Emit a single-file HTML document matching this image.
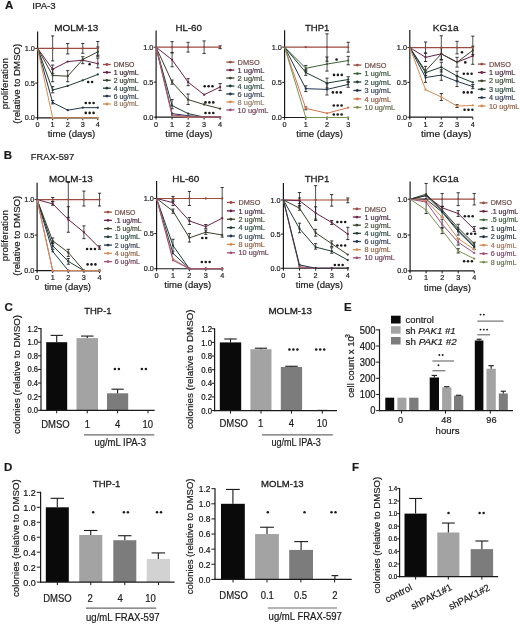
<!DOCTYPE html>
<html><head><meta charset="utf-8"><style>
html,body{margin:0;padding:0;background:#fff;}
svg{display:block;will-change:transform;filter:blur(0.4px);font-family:"Liberation Sans", sans-serif;}
</style></head><body>
<svg width="520" height="624" viewBox="0 0 520 624">
<rect width="520" height="624" fill="#fff"/>
<text x="5.00" y="9.10" font-size="11.5" fill="#1a1a1a" stroke="#1a1a1a" stroke-width="0.2" font-weight="bold" textLength="8.30" lengthAdjust="spacingAndGlyphs">A</text>
<text x="32.30" y="9.20" font-size="9.4" fill="#1a1a1a" stroke="#1a1a1a" stroke-width="0.2" textLength="23.40" lengthAdjust="spacingAndGlyphs">IPA-3</text>
<line x1="37.60" y1="31.40" x2="37.60" y2="118.40" stroke="#1a1a1a" stroke-width="1.2"/>
<line x1="37.00" y1="117.80" x2="97.80" y2="117.80" stroke="#1a1a1a" stroke-width="1.2"/>
<line x1="35.20" y1="48.40" x2="37.60" y2="48.40" stroke="#1a1a1a" stroke-width="1.0"/>
<text x="34.80" y="50.95" font-size="7.3" fill="#222" stroke="#222" stroke-width="0.2" text-anchor="end" textLength="10.15" lengthAdjust="spacingAndGlyphs">1.0</text>
<line x1="35.20" y1="83.10" x2="37.60" y2="83.10" stroke="#1a1a1a" stroke-width="1.0"/>
<text x="34.80" y="85.65" font-size="7.3" fill="#222" stroke="#222" stroke-width="0.2" text-anchor="end" textLength="10.15" lengthAdjust="spacingAndGlyphs">0.5</text>
<line x1="35.20" y1="117.80" x2="37.60" y2="117.80" stroke="#1a1a1a" stroke-width="1.0"/>
<text x="34.80" y="120.35" font-size="7.3" fill="#222" stroke="#222" stroke-width="0.2" text-anchor="end" textLength="10.15" lengthAdjust="spacingAndGlyphs">0.0</text>
<line x1="37.60" y1="117.80" x2="37.60" y2="120.20" stroke="#1a1a1a" stroke-width="1.0"/>
<text x="37.60" y="127.30" font-size="7.3" fill="#222" stroke="#222" stroke-width="0.2" text-anchor="middle" textLength="4.06" lengthAdjust="spacingAndGlyphs">0</text>
<line x1="52.65" y1="117.80" x2="52.65" y2="120.20" stroke="#1a1a1a" stroke-width="1.0"/>
<text x="52.65" y="127.30" font-size="7.3" fill="#222" stroke="#222" stroke-width="0.2" text-anchor="middle" textLength="4.06" lengthAdjust="spacingAndGlyphs">1</text>
<line x1="67.70" y1="117.80" x2="67.70" y2="120.20" stroke="#1a1a1a" stroke-width="1.0"/>
<text x="67.70" y="127.30" font-size="7.3" fill="#222" stroke="#222" stroke-width="0.2" text-anchor="middle" textLength="4.06" lengthAdjust="spacingAndGlyphs">2</text>
<line x1="82.75" y1="117.80" x2="82.75" y2="120.20" stroke="#1a1a1a" stroke-width="1.0"/>
<text x="82.75" y="127.30" font-size="7.3" fill="#222" stroke="#222" stroke-width="0.2" text-anchor="middle" textLength="4.06" lengthAdjust="spacingAndGlyphs">3</text>
<line x1="97.80" y1="117.80" x2="97.80" y2="120.20" stroke="#1a1a1a" stroke-width="1.0"/>
<text x="97.80" y="127.30" font-size="7.3" fill="#222" stroke="#222" stroke-width="0.2" text-anchor="middle" textLength="4.06" lengthAdjust="spacingAndGlyphs">4</text>
<line x1="52.65" y1="35.91" x2="52.65" y2="60.89" stroke="#151515" stroke-width="0.75"/>
<line x1="51.05" y1="35.91" x2="54.25" y2="35.91" stroke="#151515" stroke-width="0.85"/>
<line x1="51.05" y1="60.89" x2="54.25" y2="60.89" stroke="#151515" stroke-width="0.85"/>
<line x1="67.70" y1="43.54" x2="67.70" y2="53.95" stroke="#151515" stroke-width="0.75"/>
<line x1="66.10" y1="43.54" x2="69.30" y2="43.54" stroke="#151515" stroke-width="0.85"/>
<line x1="66.10" y1="53.95" x2="69.30" y2="53.95" stroke="#151515" stroke-width="0.85"/>
<line x1="82.75" y1="43.54" x2="82.75" y2="53.26" stroke="#151515" stroke-width="0.75"/>
<line x1="81.15" y1="43.54" x2="84.35" y2="43.54" stroke="#151515" stroke-width="0.85"/>
<line x1="81.15" y1="53.26" x2="84.35" y2="53.26" stroke="#151515" stroke-width="0.85"/>
<line x1="97.80" y1="41.46" x2="97.80" y2="55.34" stroke="#151515" stroke-width="0.75"/>
<line x1="96.20" y1="41.46" x2="99.40" y2="41.46" stroke="#151515" stroke-width="0.85"/>
<line x1="96.20" y1="55.34" x2="99.40" y2="55.34" stroke="#151515" stroke-width="0.85"/>
<line x1="52.65" y1="65.06" x2="52.65" y2="73.38" stroke="#151515" stroke-width="0.75"/>
<line x1="51.05" y1="65.06" x2="54.25" y2="65.06" stroke="#151515" stroke-width="0.85"/>
<line x1="51.05" y1="73.38" x2="54.25" y2="73.38" stroke="#151515" stroke-width="0.85"/>
<line x1="82.75" y1="56.73" x2="82.75" y2="63.67" stroke="#151515" stroke-width="0.75"/>
<line x1="81.15" y1="56.73" x2="84.35" y2="56.73" stroke="#151515" stroke-width="0.85"/>
<line x1="81.15" y1="63.67" x2="84.35" y2="63.67" stroke="#151515" stroke-width="0.85"/>
<line x1="97.80" y1="58.12" x2="97.80" y2="67.83" stroke="#151515" stroke-width="0.75"/>
<line x1="96.20" y1="58.12" x2="99.40" y2="58.12" stroke="#151515" stroke-width="0.85"/>
<line x1="96.20" y1="67.83" x2="99.40" y2="67.83" stroke="#151515" stroke-width="0.85"/>
<line x1="52.65" y1="69.22" x2="52.65" y2="81.71" stroke="#151515" stroke-width="0.75"/>
<line x1="51.05" y1="69.22" x2="54.25" y2="69.22" stroke="#151515" stroke-width="0.85"/>
<line x1="51.05" y1="81.71" x2="54.25" y2="81.71" stroke="#151515" stroke-width="0.85"/>
<line x1="67.70" y1="70.61" x2="67.70" y2="81.71" stroke="#151515" stroke-width="0.75"/>
<line x1="66.10" y1="70.61" x2="69.30" y2="70.61" stroke="#151515" stroke-width="0.85"/>
<line x1="66.10" y1="81.71" x2="69.30" y2="81.71" stroke="#151515" stroke-width="0.85"/>
<line x1="97.80" y1="47.01" x2="97.80" y2="56.73" stroke="#151515" stroke-width="0.75"/>
<line x1="96.20" y1="47.01" x2="99.40" y2="47.01" stroke="#151515" stroke-width="0.85"/>
<line x1="96.20" y1="56.73" x2="99.40" y2="56.73" stroke="#151515" stroke-width="0.85"/>
<line x1="52.65" y1="86.57" x2="52.65" y2="92.82" stroke="#151515" stroke-width="0.75"/>
<line x1="51.05" y1="86.57" x2="54.25" y2="86.57" stroke="#151515" stroke-width="0.85"/>
<line x1="51.05" y1="92.82" x2="54.25" y2="92.82" stroke="#151515" stroke-width="0.85"/>
<line x1="52.65" y1="100.45" x2="52.65" y2="103.92" stroke="#151515" stroke-width="0.75"/>
<line x1="51.05" y1="100.45" x2="54.25" y2="100.45" stroke="#151515" stroke-width="0.85"/>
<line x1="51.05" y1="103.92" x2="54.25" y2="103.92" stroke="#151515" stroke-width="0.85"/>
<polyline points="37.60,48.40 52.65,48.40 67.70,48.40 82.75,48.40 97.80,48.40" fill="none" stroke="#9a4c3e" stroke-width="1.2" stroke-linejoin="round"/>
<polyline points="37.60,48.40 52.65,69.22 67.70,61.59 82.75,60.20 97.80,63.67" fill="none" stroke="#6a2248" stroke-width="1.0" stroke-linejoin="round"/>
<polyline points="37.60,48.40 52.65,75.47 67.70,76.16 82.75,59.50 97.80,51.87" fill="none" stroke="#3a4228" stroke-width="1.0" stroke-linejoin="round"/>
<polyline points="37.60,48.40 52.65,90.04 67.70,85.88 82.75,80.32 97.80,74.42" fill="none" stroke="#1f3d33" stroke-width="1.0" stroke-linejoin="round"/>
<polyline points="37.60,48.40 52.65,102.53 67.70,110.17 82.75,107.67 97.80,107.67" fill="none" stroke="#22364c" stroke-width="1.0" stroke-linejoin="round"/>
<polyline points="37.60,48.40 52.65,117.80 67.70,117.80 82.75,117.80 97.80,117.80" fill="none" stroke="#d68c52" stroke-width="1.0" stroke-linejoin="round"/>
<circle cx="52.65" cy="48.40" r="1.15" fill="#9a4c3e"/>
<circle cx="67.70" cy="48.40" r="1.15" fill="#9a4c3e"/>
<circle cx="82.75" cy="48.40" r="1.15" fill="#9a4c3e"/>
<circle cx="97.80" cy="48.40" r="1.15" fill="#9a4c3e"/>
<circle cx="52.65" cy="69.22" r="1.15" fill="#6a2248"/>
<circle cx="67.70" cy="61.59" r="1.15" fill="#6a2248"/>
<circle cx="82.75" cy="60.20" r="1.15" fill="#6a2248"/>
<circle cx="97.80" cy="63.67" r="1.15" fill="#6a2248"/>
<circle cx="52.65" cy="75.47" r="1.15" fill="#3a4228"/>
<circle cx="67.70" cy="76.16" r="1.15" fill="#3a4228"/>
<circle cx="82.75" cy="59.50" r="1.15" fill="#3a4228"/>
<circle cx="97.80" cy="51.87" r="1.15" fill="#3a4228"/>
<circle cx="52.65" cy="90.04" r="1.15" fill="#1f3d33"/>
<circle cx="67.70" cy="85.88" r="1.15" fill="#1f3d33"/>
<circle cx="82.75" cy="80.32" r="1.15" fill="#1f3d33"/>
<circle cx="97.80" cy="74.42" r="1.15" fill="#1f3d33"/>
<circle cx="52.65" cy="102.53" r="1.15" fill="#22364c"/>
<circle cx="67.70" cy="110.17" r="1.15" fill="#22364c"/>
<circle cx="82.75" cy="107.67" r="1.15" fill="#22364c"/>
<circle cx="97.80" cy="107.67" r="1.15" fill="#22364c"/>
<circle cx="52.65" cy="117.80" r="1.15" fill="#d68c52"/>
<circle cx="67.70" cy="117.80" r="1.15" fill="#d68c52"/>
<circle cx="82.75" cy="117.80" r="1.15" fill="#d68c52"/>
<circle cx="97.80" cy="117.80" r="1.15" fill="#d68c52"/>
<text x="47.70" y="137.40" font-size="9.6" fill="#1a1a1a" stroke="#1a1a1a" stroke-width="0.2" textLength="47.60" lengthAdjust="spacingAndGlyphs">time (days)</text>
<text x="54.20" y="31.00" font-size="9.8" fill="#1a1a1a" stroke="#1a1a1a" stroke-width="0.28" textLength="44.10" lengthAdjust="spacingAndGlyphs">MOLM-13</text>
<line x1="103.00" y1="64.50" x2="110.80" y2="64.50" stroke="#9a4c3e" stroke-width="1.3"/>
<circle cx="106.90" cy="64.50" r="1.4" fill="#9a4c3e"/>
<text x="113.70" y="66.98" font-size="6.9" fill="#603e36" stroke="#603e36" stroke-width="0.18" textLength="20.70" lengthAdjust="spacingAndGlyphs">DMSO</text>
<line x1="103.00" y1="72.40" x2="110.80" y2="72.40" stroke="#6a2248" stroke-width="1.3"/>
<circle cx="106.90" cy="72.40" r="1.4" fill="#6a2248"/>
<text x="113.70" y="74.88" font-size="6.9" fill="#3e2736" stroke="#3e2736" stroke-width="0.18" textLength="24.93" lengthAdjust="spacingAndGlyphs">1 ug/mL</text>
<line x1="103.00" y1="80.30" x2="110.80" y2="80.30" stroke="#3a4228" stroke-width="1.3"/>
<circle cx="106.90" cy="80.30" r="1.4" fill="#3a4228"/>
<text x="113.70" y="82.78" font-size="6.9" fill="#394232" stroke="#394232" stroke-width="0.18" textLength="24.93" lengthAdjust="spacingAndGlyphs">2 ug/mL</text>
<line x1="103.00" y1="88.20" x2="110.80" y2="88.20" stroke="#1f3d33" stroke-width="1.3"/>
<circle cx="106.90" cy="88.20" r="1.4" fill="#1f3d33"/>
<text x="113.70" y="90.68" font-size="6.9" fill="#273e39" stroke="#273e39" stroke-width="0.18" textLength="24.93" lengthAdjust="spacingAndGlyphs">4 ug/mL</text>
<line x1="103.00" y1="96.10" x2="110.80" y2="96.10" stroke="#22364c" stroke-width="1.3"/>
<circle cx="106.90" cy="96.10" r="1.4" fill="#22364c"/>
<text x="113.70" y="98.58" font-size="6.9" fill="#323e4f" stroke="#323e4f" stroke-width="0.18" textLength="24.93" lengthAdjust="spacingAndGlyphs">6 ug/mL</text>
<line x1="103.00" y1="104.00" x2="110.80" y2="104.00" stroke="#d68c52" stroke-width="1.3"/>
<circle cx="106.90" cy="104.00" r="1.4" fill="#d68c52"/>
<text x="113.70" y="106.48" font-size="6.9" fill="#937059" stroke="#937059" stroke-width="0.18" textLength="24.93" lengthAdjust="spacingAndGlyphs">8 ug/mL</text>
<circle cx="89.60" cy="64.20" r="1.3" fill="#1a1a1a"/>
<circle cx="88.20" cy="82.00" r="1.3" fill="#1a1a1a"/>
<circle cx="92.10" cy="82.00" r="1.3" fill="#1a1a1a"/>
<circle cx="85.75" cy="103.00" r="1.3" fill="#1a1a1a"/>
<circle cx="89.65" cy="103.00" r="1.3" fill="#1a1a1a"/>
<circle cx="93.55" cy="103.00" r="1.3" fill="#1a1a1a"/>
<circle cx="85.75" cy="112.90" r="1.3" fill="#1a1a1a"/>
<circle cx="89.65" cy="112.90" r="1.3" fill="#1a1a1a"/>
<circle cx="93.55" cy="112.90" r="1.3" fill="#1a1a1a"/>
<text x="8.40" y="83.70" font-size="8.9" fill="#1a1a1a" stroke="#1a1a1a" stroke-width="0.2" text-anchor="middle" textLength="51.00" lengthAdjust="spacingAndGlyphs" transform="rotate(-90 8.40 83.70)">proliferation</text>
<text x="19.60" y="83.70" font-size="8.9" fill="#1a1a1a" stroke="#1a1a1a" stroke-width="0.2" text-anchor="middle" textLength="80.00" lengthAdjust="spacingAndGlyphs" transform="rotate(-90 19.60 83.70)">(relative to DMSO)</text>
<line x1="156.10" y1="30.40" x2="156.10" y2="117.70" stroke="#1a1a1a" stroke-width="1.2"/>
<line x1="155.50" y1="117.10" x2="220.10" y2="117.10" stroke="#1a1a1a" stroke-width="1.2"/>
<line x1="153.70" y1="47.20" x2="156.10" y2="47.20" stroke="#1a1a1a" stroke-width="1.0"/>
<text x="153.30" y="49.75" font-size="7.3" fill="#222" stroke="#222" stroke-width="0.2" text-anchor="end" textLength="10.15" lengthAdjust="spacingAndGlyphs">1.0</text>
<line x1="153.70" y1="82.15" x2="156.10" y2="82.15" stroke="#1a1a1a" stroke-width="1.0"/>
<text x="153.30" y="84.70" font-size="7.3" fill="#222" stroke="#222" stroke-width="0.2" text-anchor="end" textLength="10.15" lengthAdjust="spacingAndGlyphs">0.5</text>
<line x1="153.70" y1="117.10" x2="156.10" y2="117.10" stroke="#1a1a1a" stroke-width="1.0"/>
<text x="153.30" y="119.65" font-size="7.3" fill="#222" stroke="#222" stroke-width="0.2" text-anchor="end" textLength="10.15" lengthAdjust="spacingAndGlyphs">0.0</text>
<line x1="156.10" y1="117.10" x2="156.10" y2="119.50" stroke="#1a1a1a" stroke-width="1.0"/>
<text x="156.10" y="126.60" font-size="7.3" fill="#222" stroke="#222" stroke-width="0.2" text-anchor="middle" textLength="4.06" lengthAdjust="spacingAndGlyphs">0</text>
<line x1="172.10" y1="117.10" x2="172.10" y2="119.50" stroke="#1a1a1a" stroke-width="1.0"/>
<text x="172.10" y="126.60" font-size="7.3" fill="#222" stroke="#222" stroke-width="0.2" text-anchor="middle" textLength="4.06" lengthAdjust="spacingAndGlyphs">1</text>
<line x1="188.10" y1="117.10" x2="188.10" y2="119.50" stroke="#1a1a1a" stroke-width="1.0"/>
<text x="188.10" y="126.60" font-size="7.3" fill="#222" stroke="#222" stroke-width="0.2" text-anchor="middle" textLength="4.06" lengthAdjust="spacingAndGlyphs">2</text>
<line x1="204.10" y1="117.10" x2="204.10" y2="119.50" stroke="#1a1a1a" stroke-width="1.0"/>
<text x="204.10" y="126.60" font-size="7.3" fill="#222" stroke="#222" stroke-width="0.2" text-anchor="middle" textLength="4.06" lengthAdjust="spacingAndGlyphs">3</text>
<line x1="220.10" y1="117.10" x2="220.10" y2="119.50" stroke="#1a1a1a" stroke-width="1.0"/>
<text x="220.10" y="126.60" font-size="7.3" fill="#222" stroke="#222" stroke-width="0.2" text-anchor="middle" textLength="4.06" lengthAdjust="spacingAndGlyphs">4</text>
<line x1="172.10" y1="41.61" x2="172.10" y2="52.79" stroke="#151515" stroke-width="0.75"/>
<line x1="170.50" y1="41.61" x2="173.70" y2="41.61" stroke="#151515" stroke-width="0.85"/>
<line x1="170.50" y1="52.79" x2="173.70" y2="52.79" stroke="#151515" stroke-width="0.85"/>
<line x1="188.10" y1="42.31" x2="188.10" y2="52.09" stroke="#151515" stroke-width="0.75"/>
<line x1="186.50" y1="42.31" x2="189.70" y2="42.31" stroke="#151515" stroke-width="0.85"/>
<line x1="186.50" y1="52.09" x2="189.70" y2="52.09" stroke="#151515" stroke-width="0.85"/>
<line x1="204.10" y1="40.91" x2="204.10" y2="53.49" stroke="#151515" stroke-width="0.75"/>
<line x1="202.50" y1="40.91" x2="205.70" y2="40.91" stroke="#151515" stroke-width="0.85"/>
<line x1="202.50" y1="53.49" x2="205.70" y2="53.49" stroke="#151515" stroke-width="0.85"/>
<line x1="220.10" y1="45.80" x2="220.10" y2="48.60" stroke="#151515" stroke-width="0.75"/>
<line x1="218.50" y1="45.80" x2="221.70" y2="45.80" stroke="#151515" stroke-width="0.85"/>
<line x1="218.50" y1="48.60" x2="221.70" y2="48.60" stroke="#151515" stroke-width="0.85"/>
<line x1="172.10" y1="52.79" x2="172.10" y2="66.77" stroke="#151515" stroke-width="0.75"/>
<line x1="170.50" y1="52.79" x2="173.70" y2="52.79" stroke="#151515" stroke-width="0.85"/>
<line x1="170.50" y1="66.77" x2="173.70" y2="66.77" stroke="#151515" stroke-width="0.85"/>
<line x1="188.10" y1="78.66" x2="188.10" y2="85.64" stroke="#151515" stroke-width="0.75"/>
<line x1="186.50" y1="78.66" x2="189.70" y2="78.66" stroke="#151515" stroke-width="0.85"/>
<line x1="186.50" y1="85.64" x2="189.70" y2="85.64" stroke="#151515" stroke-width="0.85"/>
<line x1="220.10" y1="83.55" x2="220.10" y2="90.54" stroke="#151515" stroke-width="0.75"/>
<line x1="218.50" y1="83.55" x2="221.70" y2="83.55" stroke="#151515" stroke-width="0.85"/>
<line x1="218.50" y1="90.54" x2="221.70" y2="90.54" stroke="#151515" stroke-width="0.85"/>
<line x1="172.10" y1="80.05" x2="172.10" y2="84.25" stroke="#151515" stroke-width="0.75"/>
<line x1="170.50" y1="80.05" x2="173.70" y2="80.05" stroke="#151515" stroke-width="0.85"/>
<line x1="170.50" y1="84.25" x2="173.70" y2="84.25" stroke="#151515" stroke-width="0.85"/>
<line x1="188.10" y1="94.03" x2="188.10" y2="104.52" stroke="#151515" stroke-width="0.75"/>
<line x1="186.50" y1="94.03" x2="189.70" y2="94.03" stroke="#151515" stroke-width="0.85"/>
<line x1="186.50" y1="104.52" x2="189.70" y2="104.52" stroke="#151515" stroke-width="0.85"/>
<line x1="172.10" y1="99.62" x2="172.10" y2="108.71" stroke="#151515" stroke-width="0.75"/>
<line x1="170.50" y1="99.62" x2="173.70" y2="99.62" stroke="#151515" stroke-width="0.85"/>
<line x1="170.50" y1="108.71" x2="173.70" y2="108.71" stroke="#151515" stroke-width="0.85"/>
<polyline points="156.10,47.20 172.10,47.20 188.10,47.20 204.10,47.20 220.10,47.20" fill="none" stroke="#9a4c3e" stroke-width="1.2" stroke-linejoin="round"/>
<polyline points="156.10,47.20 172.10,59.78 188.10,82.15 204.10,94.73 220.10,87.04" fill="none" stroke="#6a2248" stroke-width="1.0" stroke-linejoin="round"/>
<polyline points="156.10,47.20 172.10,82.15 188.10,99.62 204.10,104.52 220.10,108.71" fill="none" stroke="#3a4228" stroke-width="1.0" stroke-linejoin="round"/>
<polyline points="156.10,47.20 172.10,105.57 188.10,113.60 204.10,117.10 220.10,117.10" fill="none" stroke="#1f3d33" stroke-width="1.0" stroke-linejoin="round"/>
<polyline points="156.10,47.20 172.10,113.60 188.10,115.70 204.10,117.10 220.10,117.10" fill="none" stroke="#22364c" stroke-width="1.0" stroke-linejoin="round"/>
<polyline points="156.10,47.20 172.10,115.70 188.10,117.10 204.10,117.10 220.10,117.10" fill="none" stroke="#d68c52" stroke-width="1.0" stroke-linejoin="round"/>
<polyline points="156.10,47.20 172.10,115.00 188.10,116.40 204.10,117.10 220.10,117.10" fill="none" stroke="#a0507a" stroke-width="1.0" stroke-linejoin="round"/>
<circle cx="172.10" cy="47.20" r="1.15" fill="#9a4c3e"/>
<circle cx="188.10" cy="47.20" r="1.15" fill="#9a4c3e"/>
<circle cx="204.10" cy="47.20" r="1.15" fill="#9a4c3e"/>
<circle cx="220.10" cy="47.20" r="1.15" fill="#9a4c3e"/>
<circle cx="172.10" cy="59.78" r="1.15" fill="#6a2248"/>
<circle cx="188.10" cy="82.15" r="1.15" fill="#6a2248"/>
<circle cx="204.10" cy="94.73" r="1.15" fill="#6a2248"/>
<circle cx="220.10" cy="87.04" r="1.15" fill="#6a2248"/>
<circle cx="172.10" cy="82.15" r="1.15" fill="#3a4228"/>
<circle cx="188.10" cy="99.62" r="1.15" fill="#3a4228"/>
<circle cx="204.10" cy="104.52" r="1.15" fill="#3a4228"/>
<circle cx="220.10" cy="108.71" r="1.15" fill="#3a4228"/>
<circle cx="172.10" cy="105.57" r="1.15" fill="#1f3d33"/>
<circle cx="188.10" cy="113.60" r="1.15" fill="#1f3d33"/>
<circle cx="204.10" cy="117.10" r="1.15" fill="#1f3d33"/>
<circle cx="220.10" cy="117.10" r="1.15" fill="#1f3d33"/>
<circle cx="172.10" cy="113.60" r="1.15" fill="#22364c"/>
<circle cx="188.10" cy="115.70" r="1.15" fill="#22364c"/>
<circle cx="204.10" cy="117.10" r="1.15" fill="#22364c"/>
<circle cx="220.10" cy="117.10" r="1.15" fill="#22364c"/>
<circle cx="172.10" cy="115.70" r="1.15" fill="#d68c52"/>
<circle cx="188.10" cy="117.10" r="1.15" fill="#d68c52"/>
<circle cx="204.10" cy="117.10" r="1.15" fill="#d68c52"/>
<circle cx="220.10" cy="117.10" r="1.15" fill="#d68c52"/>
<circle cx="172.10" cy="115.00" r="1.15" fill="#a0507a"/>
<circle cx="188.10" cy="116.40" r="1.15" fill="#a0507a"/>
<circle cx="204.10" cy="117.10" r="1.15" fill="#a0507a"/>
<circle cx="220.10" cy="117.10" r="1.15" fill="#a0507a"/>
<text x="165.30" y="136.70" font-size="9.6" fill="#1a1a1a" stroke="#1a1a1a" stroke-width="0.2" textLength="47.10" lengthAdjust="spacingAndGlyphs">time (days)</text>
<text x="175.40" y="31.00" font-size="9.8" fill="#1a1a1a" stroke="#1a1a1a" stroke-width="0.28" textLength="26.60" lengthAdjust="spacingAndGlyphs">HL-60</text>
<line x1="226.30" y1="62.10" x2="234.40" y2="62.10" stroke="#9a4c3e" stroke-width="1.3"/>
<circle cx="230.35" cy="62.10" r="1.4" fill="#9a4c3e"/>
<text x="237.60" y="64.76" font-size="7.4" fill="#6c4942" stroke="#6c4942" stroke-width="0.18" textLength="22.20" lengthAdjust="spacingAndGlyphs">DMSO</text>
<line x1="226.30" y1="70.07" x2="234.40" y2="70.07" stroke="#6a2248" stroke-width="1.3"/>
<circle cx="230.35" cy="70.07" r="1.4" fill="#6a2248"/>
<text x="237.60" y="72.73" font-size="7.4" fill="#492b42" stroke="#492b42" stroke-width="0.18" textLength="26.74" lengthAdjust="spacingAndGlyphs">1 ug/mL</text>
<line x1="226.30" y1="78.04" x2="234.40" y2="78.04" stroke="#3a4228" stroke-width="1.3"/>
<circle cx="230.35" cy="78.04" r="1.4" fill="#3a4228"/>
<text x="237.60" y="80.70" font-size="7.4" fill="#3e4932" stroke="#3e4932" stroke-width="0.18" textLength="26.74" lengthAdjust="spacingAndGlyphs">2 ug/mL</text>
<line x1="226.30" y1="86.01" x2="234.40" y2="86.01" stroke="#1f3d33" stroke-width="1.3"/>
<circle cx="230.35" cy="86.01" r="1.4" fill="#1f3d33"/>
<text x="237.60" y="88.67" font-size="7.4" fill="#27493e" stroke="#27493e" stroke-width="0.18" textLength="26.74" lengthAdjust="spacingAndGlyphs">4 ug/mL</text>
<line x1="226.30" y1="93.98" x2="234.40" y2="93.98" stroke="#22364c" stroke-width="1.3"/>
<circle cx="230.35" cy="93.98" r="1.4" fill="#22364c"/>
<text x="237.60" y="96.64" font-size="7.4" fill="#323e55" stroke="#323e55" stroke-width="0.18" textLength="26.74" lengthAdjust="spacingAndGlyphs">6 ug/mL</text>
<line x1="226.30" y1="101.95" x2="234.40" y2="101.95" stroke="#d68c52" stroke-width="1.3"/>
<circle cx="230.35" cy="101.95" r="1.4" fill="#d68c52"/>
<text x="237.60" y="104.61" font-size="7.4" fill="#937c65" stroke="#937c65" stroke-width="0.18" textLength="26.74" lengthAdjust="spacingAndGlyphs">8 ug/mL</text>
<line x1="226.30" y1="109.92" x2="234.40" y2="109.92" stroke="#a0507a" stroke-width="1.3"/>
<circle cx="230.35" cy="109.92" r="1.4" fill="#a0507a"/>
<text x="237.60" y="112.58" font-size="7.4" fill="#6c3e55" stroke="#6c3e55" stroke-width="0.18" textLength="30.85" lengthAdjust="spacingAndGlyphs">10 ug/mL</text>
<circle cx="204.70" cy="86.30" r="1.3" fill="#1a1a1a"/>
<circle cx="208.60" cy="86.30" r="1.3" fill="#1a1a1a"/>
<circle cx="212.50" cy="86.30" r="1.3" fill="#1a1a1a"/>
<circle cx="205.50" cy="102.40" r="1.3" fill="#1a1a1a"/>
<circle cx="209.40" cy="102.40" r="1.3" fill="#1a1a1a"/>
<circle cx="213.30" cy="102.40" r="1.3" fill="#1a1a1a"/>
<circle cx="205.50" cy="113.00" r="1.3" fill="#1a1a1a"/>
<circle cx="209.40" cy="113.00" r="1.3" fill="#1a1a1a"/>
<circle cx="213.30" cy="113.00" r="1.3" fill="#1a1a1a"/>
<line x1="284.60" y1="30.30" x2="284.60" y2="118.10" stroke="#1a1a1a" stroke-width="1.2"/>
<line x1="284.00" y1="117.50" x2="348.20" y2="117.50" stroke="#1a1a1a" stroke-width="1.2"/>
<line x1="282.20" y1="47.20" x2="284.60" y2="47.20" stroke="#1a1a1a" stroke-width="1.0"/>
<text x="281.80" y="49.75" font-size="7.3" fill="#222" stroke="#222" stroke-width="0.2" text-anchor="end" textLength="10.15" lengthAdjust="spacingAndGlyphs">1.0</text>
<line x1="282.20" y1="82.35" x2="284.60" y2="82.35" stroke="#1a1a1a" stroke-width="1.0"/>
<text x="281.80" y="84.90" font-size="7.3" fill="#222" stroke="#222" stroke-width="0.2" text-anchor="end" textLength="10.15" lengthAdjust="spacingAndGlyphs">0.5</text>
<line x1="282.20" y1="117.50" x2="284.60" y2="117.50" stroke="#1a1a1a" stroke-width="1.0"/>
<text x="281.80" y="120.05" font-size="7.3" fill="#222" stroke="#222" stroke-width="0.2" text-anchor="end" textLength="10.15" lengthAdjust="spacingAndGlyphs">0.0</text>
<line x1="284.60" y1="117.50" x2="284.60" y2="119.90" stroke="#1a1a1a" stroke-width="1.0"/>
<text x="284.60" y="127.00" font-size="7.3" fill="#222" stroke="#222" stroke-width="0.2" text-anchor="middle" textLength="4.06" lengthAdjust="spacingAndGlyphs">0</text>
<line x1="305.80" y1="117.50" x2="305.80" y2="119.90" stroke="#1a1a1a" stroke-width="1.0"/>
<text x="305.80" y="127.00" font-size="7.3" fill="#222" stroke="#222" stroke-width="0.2" text-anchor="middle" textLength="4.06" lengthAdjust="spacingAndGlyphs">1</text>
<line x1="327.00" y1="117.50" x2="327.00" y2="119.90" stroke="#1a1a1a" stroke-width="1.0"/>
<text x="327.00" y="127.00" font-size="7.3" fill="#222" stroke="#222" stroke-width="0.2" text-anchor="middle" textLength="4.06" lengthAdjust="spacingAndGlyphs">2</text>
<line x1="348.20" y1="117.50" x2="348.20" y2="119.90" stroke="#1a1a1a" stroke-width="1.0"/>
<text x="348.20" y="127.00" font-size="7.3" fill="#222" stroke="#222" stroke-width="0.2" text-anchor="middle" textLength="4.06" lengthAdjust="spacingAndGlyphs">3</text>
<line x1="327.00" y1="33.84" x2="327.00" y2="61.26" stroke="#151515" stroke-width="0.75"/>
<line x1="325.40" y1="33.84" x2="328.60" y2="33.84" stroke="#151515" stroke-width="0.85"/>
<line x1="325.40" y1="61.26" x2="328.60" y2="61.26" stroke="#151515" stroke-width="0.85"/>
<line x1="348.20" y1="42.28" x2="348.20" y2="52.12" stroke="#151515" stroke-width="0.75"/>
<line x1="346.60" y1="42.28" x2="349.80" y2="42.28" stroke="#151515" stroke-width="0.85"/>
<line x1="346.60" y1="52.12" x2="349.80" y2="52.12" stroke="#151515" stroke-width="0.85"/>
<line x1="305.80" y1="65.48" x2="305.80" y2="71.10" stroke="#151515" stroke-width="0.75"/>
<line x1="304.20" y1="65.48" x2="307.40" y2="65.48" stroke="#151515" stroke-width="0.85"/>
<line x1="304.20" y1="71.10" x2="307.40" y2="71.10" stroke="#151515" stroke-width="0.85"/>
<line x1="327.00" y1="57.04" x2="327.00" y2="71.10" stroke="#151515" stroke-width="0.75"/>
<line x1="325.40" y1="57.04" x2="328.60" y2="57.04" stroke="#151515" stroke-width="0.85"/>
<line x1="325.40" y1="71.10" x2="328.60" y2="71.10" stroke="#151515" stroke-width="0.85"/>
<line x1="348.20" y1="56.34" x2="348.20" y2="64.78" stroke="#151515" stroke-width="0.75"/>
<line x1="346.60" y1="56.34" x2="349.80" y2="56.34" stroke="#151515" stroke-width="0.85"/>
<line x1="346.60" y1="64.78" x2="349.80" y2="64.78" stroke="#151515" stroke-width="0.85"/>
<line x1="305.80" y1="69.70" x2="305.80" y2="75.32" stroke="#151515" stroke-width="0.75"/>
<line x1="304.20" y1="69.70" x2="307.40" y2="69.70" stroke="#151515" stroke-width="0.85"/>
<line x1="304.20" y1="75.32" x2="307.40" y2="75.32" stroke="#151515" stroke-width="0.85"/>
<line x1="327.00" y1="78.13" x2="327.00" y2="87.97" stroke="#151515" stroke-width="0.75"/>
<line x1="325.40" y1="78.13" x2="328.60" y2="78.13" stroke="#151515" stroke-width="0.85"/>
<line x1="325.40" y1="87.97" x2="328.60" y2="87.97" stroke="#151515" stroke-width="0.85"/>
<line x1="348.20" y1="76.73" x2="348.20" y2="82.35" stroke="#151515" stroke-width="0.75"/>
<line x1="346.60" y1="76.73" x2="349.80" y2="76.73" stroke="#151515" stroke-width="0.85"/>
<line x1="346.60" y1="82.35" x2="349.80" y2="82.35" stroke="#151515" stroke-width="0.85"/>
<line x1="305.80" y1="85.87" x2="305.80" y2="91.49" stroke="#151515" stroke-width="0.75"/>
<line x1="304.20" y1="85.87" x2="307.40" y2="85.87" stroke="#151515" stroke-width="0.85"/>
<line x1="304.20" y1="91.49" x2="307.40" y2="91.49" stroke="#151515" stroke-width="0.85"/>
<line x1="327.00" y1="83.76" x2="327.00" y2="95.00" stroke="#151515" stroke-width="0.75"/>
<line x1="325.40" y1="83.76" x2="328.60" y2="83.76" stroke="#151515" stroke-width="0.85"/>
<line x1="325.40" y1="95.00" x2="328.60" y2="95.00" stroke="#151515" stroke-width="0.85"/>
<line x1="348.20" y1="81.65" x2="348.20" y2="87.27" stroke="#151515" stroke-width="0.75"/>
<line x1="346.60" y1="81.65" x2="349.80" y2="81.65" stroke="#151515" stroke-width="0.85"/>
<line x1="346.60" y1="87.27" x2="349.80" y2="87.27" stroke="#151515" stroke-width="0.85"/>
<line x1="305.80" y1="106.95" x2="305.80" y2="109.77" stroke="#151515" stroke-width="0.75"/>
<line x1="304.20" y1="106.95" x2="307.40" y2="106.95" stroke="#151515" stroke-width="0.85"/>
<line x1="304.20" y1="109.77" x2="307.40" y2="109.77" stroke="#151515" stroke-width="0.85"/>
<polyline points="284.60,47.20 305.80,47.20 327.00,47.20 348.20,47.20" fill="none" stroke="#9a4c3e" stroke-width="1.2" stroke-linejoin="round"/>
<polyline points="284.60,47.20 305.80,68.29 327.00,64.07 348.20,60.56" fill="none" stroke="#3d6438" stroke-width="1.0" stroke-linejoin="round"/>
<polyline points="284.60,47.20 305.80,72.51 327.00,83.05 348.20,79.54" fill="none" stroke="#1f3d33" stroke-width="1.0" stroke-linejoin="round"/>
<polyline points="284.60,47.20 305.80,88.68 327.00,89.38 348.20,84.46" fill="none" stroke="#22364c" stroke-width="1.0" stroke-linejoin="round"/>
<polyline points="284.60,47.20 305.80,108.36 327.00,113.28 348.20,107.66" fill="none" stroke="#d4744e" stroke-width="1.0" stroke-linejoin="round"/>
<polyline points="284.60,47.20 305.80,117.50 327.00,117.50 348.20,117.50" fill="none" stroke="#7a9450" stroke-width="1.0" stroke-linejoin="round"/>
<circle cx="305.80" cy="47.20" r="1.15" fill="#9a4c3e"/>
<circle cx="327.00" cy="47.20" r="1.15" fill="#9a4c3e"/>
<circle cx="348.20" cy="47.20" r="1.15" fill="#9a4c3e"/>
<circle cx="305.80" cy="68.29" r="1.15" fill="#3d6438"/>
<circle cx="327.00" cy="64.07" r="1.15" fill="#3d6438"/>
<circle cx="348.20" cy="60.56" r="1.15" fill="#3d6438"/>
<circle cx="305.80" cy="72.51" r="1.15" fill="#1f3d33"/>
<circle cx="327.00" cy="83.05" r="1.15" fill="#1f3d33"/>
<circle cx="348.20" cy="79.54" r="1.15" fill="#1f3d33"/>
<circle cx="305.80" cy="88.68" r="1.15" fill="#22364c"/>
<circle cx="327.00" cy="89.38" r="1.15" fill="#22364c"/>
<circle cx="348.20" cy="84.46" r="1.15" fill="#22364c"/>
<circle cx="305.80" cy="108.36" r="1.15" fill="#d4744e"/>
<circle cx="327.00" cy="113.28" r="1.15" fill="#d4744e"/>
<circle cx="348.20" cy="107.66" r="1.15" fill="#d4744e"/>
<circle cx="305.80" cy="117.50" r="1.15" fill="#7a9450"/>
<circle cx="327.00" cy="117.50" r="1.15" fill="#7a9450"/>
<circle cx="348.20" cy="117.50" r="1.15" fill="#7a9450"/>
<text x="296.30" y="137.10" font-size="9.6" fill="#1a1a1a" stroke="#1a1a1a" stroke-width="0.2" textLength="46.60" lengthAdjust="spacingAndGlyphs">time (days)</text>
<text x="305.00" y="31.30" font-size="9.8" fill="#1a1a1a" stroke="#1a1a1a" stroke-width="0.28" textLength="24.40" lengthAdjust="spacingAndGlyphs">THP1</text>
<line x1="353.40" y1="65.10" x2="361.30" y2="65.10" stroke="#9a4c3e" stroke-width="1.3"/>
<circle cx="357.35" cy="65.10" r="1.4" fill="#9a4c3e"/>
<text x="364.60" y="67.73" font-size="7.3" fill="#6c4942" stroke="#6c4942" stroke-width="0.18" textLength="21.90" lengthAdjust="spacingAndGlyphs">DMSO</text>
<line x1="353.40" y1="73.56" x2="361.30" y2="73.56" stroke="#3d6438" stroke-width="1.3"/>
<circle cx="357.35" cy="73.56" r="1.4" fill="#3d6438"/>
<text x="364.60" y="76.19" font-size="7.3" fill="#325532" stroke="#325532" stroke-width="0.18" textLength="26.38" lengthAdjust="spacingAndGlyphs">1 ug/mL</text>
<line x1="353.40" y1="82.02" x2="361.30" y2="82.02" stroke="#1f3d33" stroke-width="1.3"/>
<circle cx="357.35" cy="82.02" r="1.4" fill="#1f3d33"/>
<text x="364.60" y="84.65" font-size="7.3" fill="#27493e" stroke="#27493e" stroke-width="0.18" textLength="26.38" lengthAdjust="spacingAndGlyphs">2 ug/mL</text>
<line x1="353.40" y1="90.48" x2="361.30" y2="90.48" stroke="#22364c" stroke-width="1.3"/>
<circle cx="357.35" cy="90.48" r="1.4" fill="#22364c"/>
<text x="364.60" y="93.11" font-size="7.3" fill="#323e55" stroke="#323e55" stroke-width="0.18" textLength="26.38" lengthAdjust="spacingAndGlyphs">3 ug/mL</text>
<line x1="353.40" y1="98.94" x2="361.30" y2="98.94" stroke="#d4744e" stroke-width="1.3"/>
<circle cx="357.35" cy="98.94" r="1.4" fill="#d4744e"/>
<text x="364.60" y="101.57" font-size="7.3" fill="#93553c" stroke="#93553c" stroke-width="0.18" textLength="26.38" lengthAdjust="spacingAndGlyphs">4 ug/mL</text>
<line x1="353.40" y1="107.40" x2="361.30" y2="107.40" stroke="#7a9450" stroke-width="1.3"/>
<circle cx="357.35" cy="107.40" r="1.4" fill="#7a9450"/>
<text x="364.60" y="110.03" font-size="7.3" fill="#606c49" stroke="#606c49" stroke-width="0.18" textLength="30.44" lengthAdjust="spacingAndGlyphs">10 ug/mL</text>
<circle cx="336.60" cy="59.50" r="1.3" fill="#1a1a1a"/>
<circle cx="334.00" cy="74.90" r="1.3" fill="#1a1a1a"/>
<circle cx="337.90" cy="74.90" r="1.3" fill="#1a1a1a"/>
<circle cx="341.80" cy="74.90" r="1.3" fill="#1a1a1a"/>
<circle cx="332.90" cy="92.40" r="1.3" fill="#1a1a1a"/>
<circle cx="336.80" cy="92.40" r="1.3" fill="#1a1a1a"/>
<circle cx="340.70" cy="92.40" r="1.3" fill="#1a1a1a"/>
<circle cx="333.80" cy="105.50" r="1.3" fill="#1a1a1a"/>
<circle cx="337.70" cy="105.50" r="1.3" fill="#1a1a1a"/>
<circle cx="341.60" cy="105.50" r="1.3" fill="#1a1a1a"/>
<circle cx="333.80" cy="114.50" r="1.3" fill="#1a1a1a"/>
<circle cx="337.70" cy="114.50" r="1.3" fill="#1a1a1a"/>
<circle cx="341.60" cy="114.50" r="1.3" fill="#1a1a1a"/>
<line x1="409.80" y1="30.00" x2="409.80" y2="117.80" stroke="#1a1a1a" stroke-width="1.2"/>
<line x1="409.20" y1="117.20" x2="472.80" y2="117.20" stroke="#1a1a1a" stroke-width="1.2"/>
<line x1="407.40" y1="47.60" x2="409.80" y2="47.60" stroke="#1a1a1a" stroke-width="1.0"/>
<text x="407.00" y="50.15" font-size="7.3" fill="#222" stroke="#222" stroke-width="0.2" text-anchor="end" textLength="10.15" lengthAdjust="spacingAndGlyphs">1.0</text>
<line x1="407.40" y1="82.40" x2="409.80" y2="82.40" stroke="#1a1a1a" stroke-width="1.0"/>
<text x="407.00" y="84.95" font-size="7.3" fill="#222" stroke="#222" stroke-width="0.2" text-anchor="end" textLength="10.15" lengthAdjust="spacingAndGlyphs">0.5</text>
<line x1="407.40" y1="117.20" x2="409.80" y2="117.20" stroke="#1a1a1a" stroke-width="1.0"/>
<text x="407.00" y="119.75" font-size="7.3" fill="#222" stroke="#222" stroke-width="0.2" text-anchor="end" textLength="10.15" lengthAdjust="spacingAndGlyphs">0.0</text>
<line x1="409.80" y1="117.20" x2="409.80" y2="119.60" stroke="#1a1a1a" stroke-width="1.0"/>
<text x="409.80" y="126.70" font-size="7.3" fill="#222" stroke="#222" stroke-width="0.2" text-anchor="middle" textLength="4.06" lengthAdjust="spacingAndGlyphs">0</text>
<line x1="425.55" y1="117.20" x2="425.55" y2="119.60" stroke="#1a1a1a" stroke-width="1.0"/>
<text x="425.55" y="126.70" font-size="7.3" fill="#222" stroke="#222" stroke-width="0.2" text-anchor="middle" textLength="4.06" lengthAdjust="spacingAndGlyphs">1</text>
<line x1="441.30" y1="117.20" x2="441.30" y2="119.60" stroke="#1a1a1a" stroke-width="1.0"/>
<text x="441.30" y="126.70" font-size="7.3" fill="#222" stroke="#222" stroke-width="0.2" text-anchor="middle" textLength="4.06" lengthAdjust="spacingAndGlyphs">2</text>
<line x1="457.05" y1="117.20" x2="457.05" y2="119.60" stroke="#1a1a1a" stroke-width="1.0"/>
<text x="457.05" y="126.70" font-size="7.3" fill="#222" stroke="#222" stroke-width="0.2" text-anchor="middle" textLength="4.06" lengthAdjust="spacingAndGlyphs">3</text>
<line x1="472.80" y1="117.20" x2="472.80" y2="119.60" stroke="#1a1a1a" stroke-width="1.0"/>
<text x="472.80" y="126.70" font-size="7.3" fill="#222" stroke="#222" stroke-width="0.2" text-anchor="middle" textLength="4.06" lengthAdjust="spacingAndGlyphs">4</text>
<line x1="425.55" y1="42.03" x2="425.55" y2="53.17" stroke="#151515" stroke-width="0.75"/>
<line x1="423.95" y1="42.03" x2="427.15" y2="42.03" stroke="#151515" stroke-width="0.85"/>
<line x1="423.95" y1="53.17" x2="427.15" y2="53.17" stroke="#151515" stroke-width="0.85"/>
<line x1="441.30" y1="35.77" x2="441.30" y2="59.43" stroke="#151515" stroke-width="0.75"/>
<line x1="439.70" y1="35.77" x2="442.90" y2="35.77" stroke="#151515" stroke-width="0.85"/>
<line x1="439.70" y1="59.43" x2="442.90" y2="59.43" stroke="#151515" stroke-width="0.85"/>
<line x1="457.05" y1="41.34" x2="457.05" y2="53.86" stroke="#151515" stroke-width="0.75"/>
<line x1="455.45" y1="41.34" x2="458.65" y2="41.34" stroke="#151515" stroke-width="0.85"/>
<line x1="455.45" y1="53.86" x2="458.65" y2="53.86" stroke="#151515" stroke-width="0.85"/>
<line x1="472.80" y1="36.12" x2="472.80" y2="64.30" stroke="#151515" stroke-width="0.75"/>
<line x1="471.20" y1="36.12" x2="474.40" y2="36.12" stroke="#151515" stroke-width="0.85"/>
<line x1="471.20" y1="64.30" x2="474.40" y2="64.30" stroke="#151515" stroke-width="0.85"/>
<line x1="425.55" y1="53.17" x2="425.55" y2="61.52" stroke="#151515" stroke-width="0.75"/>
<line x1="423.95" y1="53.17" x2="427.15" y2="53.17" stroke="#151515" stroke-width="0.85"/>
<line x1="423.95" y1="61.52" x2="427.15" y2="61.52" stroke="#151515" stroke-width="0.85"/>
<line x1="457.05" y1="57.34" x2="457.05" y2="67.09" stroke="#151515" stroke-width="0.75"/>
<line x1="455.45" y1="57.34" x2="458.65" y2="57.34" stroke="#151515" stroke-width="0.85"/>
<line x1="455.45" y1="67.09" x2="458.65" y2="67.09" stroke="#151515" stroke-width="0.85"/>
<line x1="425.55" y1="66.39" x2="425.55" y2="75.44" stroke="#151515" stroke-width="0.75"/>
<line x1="423.95" y1="66.39" x2="427.15" y2="66.39" stroke="#151515" stroke-width="0.85"/>
<line x1="423.95" y1="75.44" x2="427.15" y2="75.44" stroke="#151515" stroke-width="0.85"/>
<line x1="441.30" y1="47.60" x2="441.30" y2="60.13" stroke="#151515" stroke-width="0.75"/>
<line x1="439.70" y1="47.60" x2="442.90" y2="47.60" stroke="#151515" stroke-width="0.85"/>
<line x1="439.70" y1="60.13" x2="442.90" y2="60.13" stroke="#151515" stroke-width="0.85"/>
<line x1="472.80" y1="46.21" x2="472.80" y2="54.56" stroke="#151515" stroke-width="0.75"/>
<line x1="471.20" y1="46.21" x2="474.40" y2="46.21" stroke="#151515" stroke-width="0.85"/>
<line x1="471.20" y1="54.56" x2="474.40" y2="54.56" stroke="#151515" stroke-width="0.85"/>
<line x1="441.30" y1="62.22" x2="441.30" y2="71.96" stroke="#151515" stroke-width="0.75"/>
<line x1="439.70" y1="62.22" x2="442.90" y2="62.22" stroke="#151515" stroke-width="0.85"/>
<line x1="439.70" y1="71.96" x2="442.90" y2="71.96" stroke="#151515" stroke-width="0.85"/>
<line x1="457.05" y1="71.26" x2="457.05" y2="81.01" stroke="#151515" stroke-width="0.75"/>
<line x1="455.45" y1="71.26" x2="458.65" y2="71.26" stroke="#151515" stroke-width="0.85"/>
<line x1="455.45" y1="81.01" x2="458.65" y2="81.01" stroke="#151515" stroke-width="0.85"/>
<line x1="425.55" y1="72.66" x2="425.55" y2="82.40" stroke="#151515" stroke-width="0.75"/>
<line x1="423.95" y1="72.66" x2="427.15" y2="72.66" stroke="#151515" stroke-width="0.85"/>
<line x1="423.95" y1="82.40" x2="427.15" y2="82.40" stroke="#151515" stroke-width="0.85"/>
<line x1="441.30" y1="69.87" x2="441.30" y2="80.31" stroke="#151515" stroke-width="0.75"/>
<line x1="439.70" y1="69.87" x2="442.90" y2="69.87" stroke="#151515" stroke-width="0.85"/>
<line x1="439.70" y1="80.31" x2="442.90" y2="80.31" stroke="#151515" stroke-width="0.85"/>
<line x1="457.05" y1="76.14" x2="457.05" y2="86.58" stroke="#151515" stroke-width="0.75"/>
<line x1="455.45" y1="76.14" x2="458.65" y2="76.14" stroke="#151515" stroke-width="0.85"/>
<line x1="455.45" y1="86.58" x2="458.65" y2="86.58" stroke="#151515" stroke-width="0.85"/>
<line x1="472.80" y1="84.49" x2="472.80" y2="88.66" stroke="#151515" stroke-width="0.75"/>
<line x1="471.20" y1="84.49" x2="474.40" y2="84.49" stroke="#151515" stroke-width="0.85"/>
<line x1="471.20" y1="88.66" x2="474.40" y2="88.66" stroke="#151515" stroke-width="0.85"/>
<line x1="441.30" y1="93.54" x2="441.30" y2="100.50" stroke="#151515" stroke-width="0.75"/>
<line x1="439.70" y1="93.54" x2="442.90" y2="93.54" stroke="#151515" stroke-width="0.85"/>
<line x1="439.70" y1="100.50" x2="442.90" y2="100.50" stroke="#151515" stroke-width="0.85"/>
<line x1="457.05" y1="104.67" x2="457.05" y2="107.46" stroke="#151515" stroke-width="0.75"/>
<line x1="455.45" y1="104.67" x2="458.65" y2="104.67" stroke="#151515" stroke-width="0.85"/>
<line x1="455.45" y1="107.46" x2="458.65" y2="107.46" stroke="#151515" stroke-width="0.85"/>
<polyline points="409.80,47.60 425.55,47.60 441.30,47.60 457.05,47.60 472.80,47.60" fill="none" stroke="#9a4c3e" stroke-width="1.2" stroke-linejoin="round"/>
<polyline points="409.80,47.60 425.55,57.34 441.30,53.86 457.05,62.22 472.80,55.95" fill="none" stroke="#6a2248" stroke-width="1.0" stroke-linejoin="round"/>
<polyline points="409.80,47.60 425.55,70.92 441.30,53.86 457.05,62.22 472.80,50.38" fill="none" stroke="#3a4228" stroke-width="1.0" stroke-linejoin="round"/>
<polyline points="409.80,47.60 425.55,72.66 441.30,67.09 457.05,76.14 472.80,82.40" fill="none" stroke="#1f3d33" stroke-width="1.0" stroke-linejoin="round"/>
<polyline points="409.80,47.60 425.55,77.53 441.30,75.09 457.05,81.36 472.80,86.58" fill="none" stroke="#22364c" stroke-width="1.0" stroke-linejoin="round"/>
<polyline points="409.80,47.60 425.55,89.71 441.30,97.02 457.05,106.06 472.80,105.37" fill="none" stroke="#d68c52" stroke-width="1.0" stroke-linejoin="round"/>
<circle cx="425.55" cy="47.60" r="1.15" fill="#9a4c3e"/>
<circle cx="441.30" cy="47.60" r="1.15" fill="#9a4c3e"/>
<circle cx="457.05" cy="47.60" r="1.15" fill="#9a4c3e"/>
<circle cx="472.80" cy="47.60" r="1.15" fill="#9a4c3e"/>
<circle cx="425.55" cy="57.34" r="1.15" fill="#6a2248"/>
<circle cx="441.30" cy="53.86" r="1.15" fill="#6a2248"/>
<circle cx="457.05" cy="62.22" r="1.15" fill="#6a2248"/>
<circle cx="472.80" cy="55.95" r="1.15" fill="#6a2248"/>
<circle cx="425.55" cy="70.92" r="1.15" fill="#3a4228"/>
<circle cx="441.30" cy="53.86" r="1.15" fill="#3a4228"/>
<circle cx="457.05" cy="62.22" r="1.15" fill="#3a4228"/>
<circle cx="472.80" cy="50.38" r="1.15" fill="#3a4228"/>
<circle cx="425.55" cy="72.66" r="1.15" fill="#1f3d33"/>
<circle cx="441.30" cy="67.09" r="1.15" fill="#1f3d33"/>
<circle cx="457.05" cy="76.14" r="1.15" fill="#1f3d33"/>
<circle cx="472.80" cy="82.40" r="1.15" fill="#1f3d33"/>
<circle cx="425.55" cy="77.53" r="1.15" fill="#22364c"/>
<circle cx="441.30" cy="75.09" r="1.15" fill="#22364c"/>
<circle cx="457.05" cy="81.36" r="1.15" fill="#22364c"/>
<circle cx="472.80" cy="86.58" r="1.15" fill="#22364c"/>
<circle cx="425.55" cy="89.71" r="1.15" fill="#d68c52"/>
<circle cx="441.30" cy="97.02" r="1.15" fill="#d68c52"/>
<circle cx="457.05" cy="106.06" r="1.15" fill="#d68c52"/>
<circle cx="472.80" cy="105.37" r="1.15" fill="#d68c52"/>
<text x="421.00" y="136.80" font-size="9.6" fill="#1a1a1a" stroke="#1a1a1a" stroke-width="0.2" textLength="50.50" lengthAdjust="spacingAndGlyphs">time (days)</text>
<text x="432.80" y="31.30" font-size="9.8" fill="#1a1a1a" stroke="#1a1a1a" stroke-width="0.28" textLength="25.80" lengthAdjust="spacingAndGlyphs">KG1a</text>
<line x1="477.90" y1="64.10" x2="485.60" y2="64.10" stroke="#9a4c3e" stroke-width="1.3"/>
<circle cx="481.75" cy="64.10" r="1.4" fill="#9a4c3e"/>
<text x="489.00" y="66.73" font-size="7.3" fill="#6c4942" stroke="#6c4942" stroke-width="0.18" textLength="21.90" lengthAdjust="spacingAndGlyphs">DMSO</text>
<line x1="477.90" y1="72.48" x2="485.60" y2="72.48" stroke="#6a2248" stroke-width="1.3"/>
<circle cx="481.75" cy="72.48" r="1.4" fill="#6a2248"/>
<text x="489.00" y="75.11" font-size="7.3" fill="#492b42" stroke="#492b42" stroke-width="0.18" textLength="26.38" lengthAdjust="spacingAndGlyphs">1 ug/mL</text>
<line x1="477.90" y1="80.86" x2="485.60" y2="80.86" stroke="#3a4228" stroke-width="1.3"/>
<circle cx="481.75" cy="80.86" r="1.4" fill="#3a4228"/>
<text x="489.00" y="83.49" font-size="7.3" fill="#3e4932" stroke="#3e4932" stroke-width="0.18" textLength="26.38" lengthAdjust="spacingAndGlyphs">2 ug/mL</text>
<line x1="477.90" y1="89.24" x2="485.60" y2="89.24" stroke="#1f3d33" stroke-width="1.3"/>
<circle cx="481.75" cy="89.24" r="1.4" fill="#1f3d33"/>
<text x="489.00" y="91.87" font-size="7.3" fill="#27493e" stroke="#27493e" stroke-width="0.18" textLength="26.38" lengthAdjust="spacingAndGlyphs">3 ug/mL</text>
<line x1="477.90" y1="97.62" x2="485.60" y2="97.62" stroke="#22364c" stroke-width="1.3"/>
<circle cx="481.75" cy="97.62" r="1.4" fill="#22364c"/>
<text x="489.00" y="100.25" font-size="7.3" fill="#323e55" stroke="#323e55" stroke-width="0.18" textLength="26.38" lengthAdjust="spacingAndGlyphs">4 ug/mL</text>
<line x1="477.90" y1="106.00" x2="485.60" y2="106.00" stroke="#d68c52" stroke-width="1.3"/>
<circle cx="481.75" cy="106.00" r="1.4" fill="#d68c52"/>
<text x="489.00" y="108.63" font-size="7.3" fill="#936042" stroke="#936042" stroke-width="0.18" textLength="30.44" lengthAdjust="spacingAndGlyphs">10 ug/mL</text>
<circle cx="462.00" cy="52.30" r="1.3" fill="#1a1a1a"/>
<circle cx="465.30" cy="62.40" r="1.3" fill="#1a1a1a"/>
<circle cx="463.80" cy="73.70" r="1.3" fill="#1a1a1a"/>
<circle cx="467.70" cy="73.70" r="1.3" fill="#1a1a1a"/>
<circle cx="471.60" cy="73.70" r="1.3" fill="#1a1a1a"/>
<circle cx="463.80" cy="92.40" r="1.3" fill="#1a1a1a"/>
<circle cx="467.70" cy="92.40" r="1.3" fill="#1a1a1a"/>
<circle cx="471.60" cy="92.40" r="1.3" fill="#1a1a1a"/>
<circle cx="464.60" cy="109.70" r="1.3" fill="#1a1a1a"/>
<circle cx="468.50" cy="109.70" r="1.3" fill="#1a1a1a"/>
<circle cx="472.40" cy="109.70" r="1.3" fill="#1a1a1a"/>
<text x="3.80" y="158.50" font-size="11.5" fill="#1a1a1a" stroke="#1a1a1a" stroke-width="0.2" font-weight="bold" textLength="8.30" lengthAdjust="spacingAndGlyphs">B</text>
<text x="30.80" y="159.80" font-size="9.6" fill="#1a1a1a" stroke="#1a1a1a" stroke-width="0.2" textLength="43.40" lengthAdjust="spacingAndGlyphs">FRAX-597</text>
<line x1="37.10" y1="182.80" x2="37.10" y2="271.20" stroke="#1a1a1a" stroke-width="1.2"/>
<line x1="36.50" y1="270.60" x2="99.50" y2="270.60" stroke="#1a1a1a" stroke-width="1.2"/>
<line x1="34.70" y1="199.60" x2="37.10" y2="199.60" stroke="#1a1a1a" stroke-width="1.0"/>
<text x="34.30" y="202.15" font-size="7.3" fill="#222" stroke="#222" stroke-width="0.2" text-anchor="end" textLength="10.15" lengthAdjust="spacingAndGlyphs">1.0</text>
<line x1="34.70" y1="235.10" x2="37.10" y2="235.10" stroke="#1a1a1a" stroke-width="1.0"/>
<text x="34.30" y="237.65" font-size="7.3" fill="#222" stroke="#222" stroke-width="0.2" text-anchor="end" textLength="10.15" lengthAdjust="spacingAndGlyphs">0.5</text>
<line x1="34.70" y1="270.60" x2="37.10" y2="270.60" stroke="#1a1a1a" stroke-width="1.0"/>
<text x="34.30" y="273.15" font-size="7.3" fill="#222" stroke="#222" stroke-width="0.2" text-anchor="end" textLength="10.15" lengthAdjust="spacingAndGlyphs">0.0</text>
<line x1="37.10" y1="270.60" x2="37.10" y2="273.00" stroke="#1a1a1a" stroke-width="1.0"/>
<text x="37.10" y="280.10" font-size="7.3" fill="#222" stroke="#222" stroke-width="0.2" text-anchor="middle" textLength="4.06" lengthAdjust="spacingAndGlyphs">0</text>
<line x1="52.70" y1="270.60" x2="52.70" y2="273.00" stroke="#1a1a1a" stroke-width="1.0"/>
<text x="52.70" y="280.10" font-size="7.3" fill="#222" stroke="#222" stroke-width="0.2" text-anchor="middle" textLength="4.06" lengthAdjust="spacingAndGlyphs">1</text>
<line x1="68.30" y1="270.60" x2="68.30" y2="273.00" stroke="#1a1a1a" stroke-width="1.0"/>
<text x="68.30" y="280.10" font-size="7.3" fill="#222" stroke="#222" stroke-width="0.2" text-anchor="middle" textLength="4.06" lengthAdjust="spacingAndGlyphs">2</text>
<line x1="83.90" y1="270.60" x2="83.90" y2="273.00" stroke="#1a1a1a" stroke-width="1.0"/>
<text x="83.90" y="280.10" font-size="7.3" fill="#222" stroke="#222" stroke-width="0.2" text-anchor="middle" textLength="4.06" lengthAdjust="spacingAndGlyphs">3</text>
<line x1="99.50" y1="270.60" x2="99.50" y2="273.00" stroke="#1a1a1a" stroke-width="1.0"/>
<text x="99.50" y="280.10" font-size="7.3" fill="#222" stroke="#222" stroke-width="0.2" text-anchor="middle" textLength="4.06" lengthAdjust="spacingAndGlyphs">4</text>
<line x1="52.70" y1="197.47" x2="52.70" y2="201.73" stroke="#151515" stroke-width="0.75"/>
<line x1="51.10" y1="197.47" x2="54.30" y2="197.47" stroke="#151515" stroke-width="0.85"/>
<line x1="51.10" y1="201.73" x2="54.30" y2="201.73" stroke="#151515" stroke-width="0.85"/>
<line x1="68.30" y1="182.56" x2="68.30" y2="217.35" stroke="#151515" stroke-width="0.75"/>
<line x1="66.70" y1="182.56" x2="69.90" y2="182.56" stroke="#151515" stroke-width="0.85"/>
<line x1="66.70" y1="217.35" x2="69.90" y2="217.35" stroke="#151515" stroke-width="0.85"/>
<line x1="83.90" y1="191.08" x2="83.90" y2="205.99" stroke="#151515" stroke-width="0.75"/>
<line x1="82.30" y1="191.08" x2="85.50" y2="191.08" stroke="#151515" stroke-width="0.85"/>
<line x1="82.30" y1="205.99" x2="85.50" y2="205.99" stroke="#151515" stroke-width="0.85"/>
<line x1="99.50" y1="193.21" x2="99.50" y2="205.99" stroke="#151515" stroke-width="0.75"/>
<line x1="97.90" y1="193.21" x2="101.10" y2="193.21" stroke="#151515" stroke-width="0.85"/>
<line x1="97.90" y1="205.99" x2="101.10" y2="205.99" stroke="#151515" stroke-width="0.85"/>
<line x1="52.70" y1="201.73" x2="52.70" y2="205.28" stroke="#151515" stroke-width="0.75"/>
<line x1="51.10" y1="201.73" x2="54.30" y2="201.73" stroke="#151515" stroke-width="0.85"/>
<line x1="51.10" y1="205.28" x2="54.30" y2="205.28" stroke="#151515" stroke-width="0.85"/>
<line x1="68.30" y1="206.70" x2="68.30" y2="232.26" stroke="#151515" stroke-width="0.75"/>
<line x1="66.70" y1="206.70" x2="69.90" y2="206.70" stroke="#151515" stroke-width="0.85"/>
<line x1="66.70" y1="232.26" x2="69.90" y2="232.26" stroke="#151515" stroke-width="0.85"/>
<line x1="83.90" y1="225.87" x2="83.90" y2="238.65" stroke="#151515" stroke-width="0.75"/>
<line x1="82.30" y1="225.87" x2="85.50" y2="225.87" stroke="#151515" stroke-width="0.85"/>
<line x1="82.30" y1="238.65" x2="85.50" y2="238.65" stroke="#151515" stroke-width="0.85"/>
<line x1="99.50" y1="245.75" x2="99.50" y2="249.30" stroke="#151515" stroke-width="0.75"/>
<line x1="97.90" y1="245.75" x2="101.10" y2="245.75" stroke="#151515" stroke-width="0.85"/>
<line x1="97.90" y1="249.30" x2="101.10" y2="249.30" stroke="#151515" stroke-width="0.85"/>
<line x1="52.70" y1="237.94" x2="52.70" y2="243.62" stroke="#151515" stroke-width="0.75"/>
<line x1="51.10" y1="237.94" x2="54.30" y2="237.94" stroke="#151515" stroke-width="0.85"/>
<line x1="51.10" y1="243.62" x2="54.30" y2="243.62" stroke="#151515" stroke-width="0.85"/>
<line x1="68.30" y1="249.30" x2="68.30" y2="256.40" stroke="#151515" stroke-width="0.75"/>
<line x1="66.70" y1="249.30" x2="69.90" y2="249.30" stroke="#151515" stroke-width="0.85"/>
<line x1="66.70" y1="256.40" x2="69.90" y2="256.40" stroke="#151515" stroke-width="0.85"/>
<line x1="52.70" y1="242.20" x2="52.70" y2="249.30" stroke="#151515" stroke-width="0.75"/>
<line x1="51.10" y1="242.20" x2="54.30" y2="242.20" stroke="#151515" stroke-width="0.85"/>
<line x1="51.10" y1="249.30" x2="54.30" y2="249.30" stroke="#151515" stroke-width="0.85"/>
<line x1="68.30" y1="258.53" x2="68.30" y2="264.21" stroke="#151515" stroke-width="0.75"/>
<line x1="66.70" y1="258.53" x2="69.90" y2="258.53" stroke="#151515" stroke-width="0.85"/>
<line x1="66.70" y1="264.21" x2="69.90" y2="264.21" stroke="#151515" stroke-width="0.85"/>
<polyline points="37.10,199.60 52.70,199.60 68.30,199.60 83.90,199.60 99.50,199.60" fill="none" stroke="#9a4c3e" stroke-width="1.2" stroke-linejoin="round"/>
<polyline points="37.10,199.60 52.70,203.86 68.30,219.48 83.90,232.26 99.50,247.88" fill="none" stroke="#6a2248" stroke-width="1.0" stroke-linejoin="round"/>
<polyline points="37.10,199.60 52.70,240.78 68.30,252.50 83.90,270.60 99.50,270.60" fill="none" stroke="#3a4228" stroke-width="1.0" stroke-linejoin="round"/>
<polyline points="37.10,199.60 52.70,245.75 68.30,261.37 83.90,270.60 99.50,270.60" fill="none" stroke="#1f3d33" stroke-width="1.0" stroke-linejoin="round"/>
<polyline points="37.10,199.60 52.70,251.43 68.30,270.60 83.90,270.60 99.50,270.60" fill="none" stroke="#22364c" stroke-width="1.0" stroke-linejoin="round"/>
<polyline points="37.10,199.60 52.70,270.60 68.30,270.60 83.90,270.60 99.50,270.60" fill="none" stroke="#a0507a" stroke-width="1.0" stroke-linejoin="round"/>
<polyline points="37.10,199.60 52.70,270.60 68.30,270.60 83.90,270.60 99.50,270.60" fill="none" stroke="#d68c52" stroke-width="1.0" stroke-linejoin="round"/>
<circle cx="52.70" cy="199.60" r="1.15" fill="#9a4c3e"/>
<circle cx="68.30" cy="199.60" r="1.15" fill="#9a4c3e"/>
<circle cx="83.90" cy="199.60" r="1.15" fill="#9a4c3e"/>
<circle cx="99.50" cy="199.60" r="1.15" fill="#9a4c3e"/>
<circle cx="52.70" cy="203.86" r="1.15" fill="#6a2248"/>
<circle cx="68.30" cy="219.48" r="1.15" fill="#6a2248"/>
<circle cx="83.90" cy="232.26" r="1.15" fill="#6a2248"/>
<circle cx="99.50" cy="247.88" r="1.15" fill="#6a2248"/>
<circle cx="52.70" cy="240.78" r="1.15" fill="#3a4228"/>
<circle cx="68.30" cy="252.50" r="1.15" fill="#3a4228"/>
<circle cx="83.90" cy="270.60" r="1.15" fill="#3a4228"/>
<circle cx="99.50" cy="270.60" r="1.15" fill="#3a4228"/>
<circle cx="52.70" cy="245.75" r="1.15" fill="#1f3d33"/>
<circle cx="68.30" cy="261.37" r="1.15" fill="#1f3d33"/>
<circle cx="83.90" cy="270.60" r="1.15" fill="#1f3d33"/>
<circle cx="99.50" cy="270.60" r="1.15" fill="#1f3d33"/>
<circle cx="52.70" cy="251.43" r="1.15" fill="#22364c"/>
<circle cx="68.30" cy="270.60" r="1.15" fill="#22364c"/>
<circle cx="83.90" cy="270.60" r="1.15" fill="#22364c"/>
<circle cx="99.50" cy="270.60" r="1.15" fill="#22364c"/>
<circle cx="52.70" cy="270.60" r="1.15" fill="#a0507a"/>
<circle cx="68.30" cy="270.60" r="1.15" fill="#a0507a"/>
<circle cx="83.90" cy="270.60" r="1.15" fill="#a0507a"/>
<circle cx="99.50" cy="270.60" r="1.15" fill="#a0507a"/>
<circle cx="52.70" cy="270.60" r="1.15" fill="#d68c52"/>
<circle cx="68.30" cy="270.60" r="1.15" fill="#d68c52"/>
<circle cx="83.90" cy="270.60" r="1.15" fill="#d68c52"/>
<circle cx="99.50" cy="270.60" r="1.15" fill="#d68c52"/>
<text x="44.40" y="290.20" font-size="9.6" fill="#1a1a1a" stroke="#1a1a1a" stroke-width="0.2" textLength="46.60" lengthAdjust="spacingAndGlyphs">time (days)</text>
<text x="49.10" y="181.90" font-size="9.8" fill="#1a1a1a" stroke="#1a1a1a" stroke-width="0.28" textLength="43.60" lengthAdjust="spacingAndGlyphs">MOLM-13</text>
<line x1="104.00" y1="212.10" x2="111.90" y2="212.10" stroke="#9a4c3e" stroke-width="1.3"/>
<circle cx="107.95" cy="212.10" r="1.4" fill="#9a4c3e"/>
<text x="114.80" y="214.58" font-size="6.9" fill="#6c4942" stroke="#6c4942" stroke-width="0.18" textLength="20.70" lengthAdjust="spacingAndGlyphs">DMSO</text>
<line x1="104.00" y1="220.35" x2="111.90" y2="220.35" stroke="#6a2248" stroke-width="1.3"/>
<circle cx="107.95" cy="220.35" r="1.4" fill="#6a2248"/>
<text x="114.80" y="222.83" font-size="6.9" fill="#492b42" stroke="#492b42" stroke-width="0.18" textLength="26.85" lengthAdjust="spacingAndGlyphs">.1 ug/mL</text>
<line x1="104.00" y1="228.60" x2="111.90" y2="228.60" stroke="#3a4228" stroke-width="1.3"/>
<circle cx="107.95" cy="228.60" r="1.4" fill="#3a4228"/>
<text x="114.80" y="231.08" font-size="6.9" fill="#3e4932" stroke="#3e4932" stroke-width="0.18" textLength="26.85" lengthAdjust="spacingAndGlyphs">.5 ug/mL</text>
<line x1="104.00" y1="236.85" x2="111.90" y2="236.85" stroke="#1f3d33" stroke-width="1.3"/>
<circle cx="107.95" cy="236.85" r="1.4" fill="#1f3d33"/>
<text x="114.80" y="239.33" font-size="6.9" fill="#27493e" stroke="#27493e" stroke-width="0.18" textLength="24.93" lengthAdjust="spacingAndGlyphs">1 ug/mL</text>
<line x1="104.00" y1="245.10" x2="111.90" y2="245.10" stroke="#22364c" stroke-width="1.3"/>
<circle cx="107.95" cy="245.10" r="1.4" fill="#22364c"/>
<text x="114.80" y="247.58" font-size="6.9" fill="#323e55" stroke="#323e55" stroke-width="0.18" textLength="24.93" lengthAdjust="spacingAndGlyphs">2 ug/mL</text>
<line x1="104.00" y1="253.35" x2="111.90" y2="253.35" stroke="#d68c52" stroke-width="1.3"/>
<circle cx="107.95" cy="253.35" r="1.4" fill="#d68c52"/>
<text x="114.80" y="255.83" font-size="6.9" fill="#936042" stroke="#936042" stroke-width="0.18" textLength="24.93" lengthAdjust="spacingAndGlyphs">4 ug/mL</text>
<line x1="104.00" y1="261.60" x2="111.90" y2="261.60" stroke="#a0507a" stroke-width="1.3"/>
<circle cx="107.95" cy="261.60" r="1.4" fill="#a0507a"/>
<text x="114.80" y="264.08" font-size="6.9" fill="#6c3e55" stroke="#6c3e55" stroke-width="0.18" textLength="24.93" lengthAdjust="spacingAndGlyphs">6 ug/mL</text>
<circle cx="87.10" cy="249.00" r="1.3" fill="#1a1a1a"/>
<circle cx="91.00" cy="249.00" r="1.3" fill="#1a1a1a"/>
<circle cx="94.90" cy="249.00" r="1.3" fill="#1a1a1a"/>
<circle cx="87.60" cy="264.40" r="1.3" fill="#1a1a1a"/>
<circle cx="91.50" cy="264.40" r="1.3" fill="#1a1a1a"/>
<circle cx="95.40" cy="264.40" r="1.3" fill="#1a1a1a"/>
<text x="8.40" y="235.70" font-size="8.9" fill="#1a1a1a" stroke="#1a1a1a" stroke-width="0.2" text-anchor="middle" textLength="51.00" lengthAdjust="spacingAndGlyphs" transform="rotate(-90 8.40 235.70)">proliferation</text>
<text x="19.60" y="235.70" font-size="8.9" fill="#1a1a1a" stroke="#1a1a1a" stroke-width="0.2" text-anchor="middle" textLength="80.00" lengthAdjust="spacingAndGlyphs" transform="rotate(-90 19.60 235.70)">(relative to DMSO)</text>
<line x1="156.60" y1="181.10" x2="156.60" y2="269.35" stroke="#1a1a1a" stroke-width="1.2"/>
<line x1="156.00" y1="268.75" x2="222.20" y2="268.75" stroke="#1a1a1a" stroke-width="1.2"/>
<line x1="154.20" y1="198.50" x2="156.60" y2="198.50" stroke="#1a1a1a" stroke-width="1.0"/>
<text x="153.80" y="201.05" font-size="7.3" fill="#222" stroke="#222" stroke-width="0.2" text-anchor="end" textLength="10.15" lengthAdjust="spacingAndGlyphs">1.0</text>
<line x1="154.20" y1="233.62" x2="156.60" y2="233.62" stroke="#1a1a1a" stroke-width="1.0"/>
<text x="153.80" y="236.18" font-size="7.3" fill="#222" stroke="#222" stroke-width="0.2" text-anchor="end" textLength="10.15" lengthAdjust="spacingAndGlyphs">0.5</text>
<line x1="154.20" y1="268.75" x2="156.60" y2="268.75" stroke="#1a1a1a" stroke-width="1.0"/>
<text x="153.80" y="271.30" font-size="7.3" fill="#222" stroke="#222" stroke-width="0.2" text-anchor="end" textLength="10.15" lengthAdjust="spacingAndGlyphs">0.0</text>
<line x1="156.60" y1="268.75" x2="156.60" y2="271.15" stroke="#1a1a1a" stroke-width="1.0"/>
<text x="156.60" y="278.25" font-size="7.3" fill="#222" stroke="#222" stroke-width="0.2" text-anchor="middle" textLength="4.06" lengthAdjust="spacingAndGlyphs">0</text>
<line x1="173.00" y1="268.75" x2="173.00" y2="271.15" stroke="#1a1a1a" stroke-width="1.0"/>
<text x="173.00" y="278.25" font-size="7.3" fill="#222" stroke="#222" stroke-width="0.2" text-anchor="middle" textLength="4.06" lengthAdjust="spacingAndGlyphs">1</text>
<line x1="189.40" y1="268.75" x2="189.40" y2="271.15" stroke="#1a1a1a" stroke-width="1.0"/>
<text x="189.40" y="278.25" font-size="7.3" fill="#222" stroke="#222" stroke-width="0.2" text-anchor="middle" textLength="4.06" lengthAdjust="spacingAndGlyphs">2</text>
<line x1="205.80" y1="268.75" x2="205.80" y2="271.15" stroke="#1a1a1a" stroke-width="1.0"/>
<text x="205.80" y="278.25" font-size="7.3" fill="#222" stroke="#222" stroke-width="0.2" text-anchor="middle" textLength="4.06" lengthAdjust="spacingAndGlyphs">3</text>
<line x1="222.20" y1="268.75" x2="222.20" y2="271.15" stroke="#1a1a1a" stroke-width="1.0"/>
<text x="222.20" y="278.25" font-size="7.3" fill="#222" stroke="#222" stroke-width="0.2" text-anchor="middle" textLength="4.06" lengthAdjust="spacingAndGlyphs">4</text>
<line x1="173.00" y1="196.39" x2="173.00" y2="201.31" stroke="#151515" stroke-width="0.75"/>
<line x1="171.40" y1="196.39" x2="174.60" y2="196.39" stroke="#151515" stroke-width="0.85"/>
<line x1="171.40" y1="201.31" x2="174.60" y2="201.31" stroke="#151515" stroke-width="0.85"/>
<line x1="189.40" y1="191.47" x2="189.40" y2="205.53" stroke="#151515" stroke-width="0.75"/>
<line x1="187.80" y1="191.47" x2="191.00" y2="191.47" stroke="#151515" stroke-width="0.85"/>
<line x1="187.80" y1="205.53" x2="191.00" y2="205.53" stroke="#151515" stroke-width="0.85"/>
<line x1="222.20" y1="187.47" x2="222.20" y2="237.14" stroke="#151515" stroke-width="0.75"/>
<line x1="220.60" y1="187.47" x2="223.80" y2="187.47" stroke="#151515" stroke-width="0.85"/>
<line x1="220.60" y1="237.14" x2="223.80" y2="237.14" stroke="#151515" stroke-width="0.85"/>
<line x1="173.00" y1="199.91" x2="173.00" y2="205.53" stroke="#151515" stroke-width="0.75"/>
<line x1="171.40" y1="199.91" x2="174.60" y2="199.91" stroke="#151515" stroke-width="0.85"/>
<line x1="171.40" y1="205.53" x2="174.60" y2="205.53" stroke="#151515" stroke-width="0.85"/>
<line x1="189.40" y1="217.47" x2="189.40" y2="224.49" stroke="#151515" stroke-width="0.75"/>
<line x1="187.80" y1="217.47" x2="191.00" y2="217.47" stroke="#151515" stroke-width="0.85"/>
<line x1="187.80" y1="224.49" x2="191.00" y2="224.49" stroke="#151515" stroke-width="0.85"/>
<line x1="205.80" y1="224.49" x2="205.80" y2="228.71" stroke="#151515" stroke-width="0.75"/>
<line x1="204.20" y1="224.49" x2="207.40" y2="224.49" stroke="#151515" stroke-width="0.85"/>
<line x1="204.20" y1="228.71" x2="207.40" y2="228.71" stroke="#151515" stroke-width="0.85"/>
<line x1="173.00" y1="209.04" x2="173.00" y2="213.25" stroke="#151515" stroke-width="0.75"/>
<line x1="171.40" y1="209.04" x2="174.60" y2="209.04" stroke="#151515" stroke-width="0.85"/>
<line x1="171.40" y1="213.25" x2="174.60" y2="213.25" stroke="#151515" stroke-width="0.85"/>
<line x1="189.40" y1="233.62" x2="189.40" y2="242.06" stroke="#151515" stroke-width="0.75"/>
<line x1="187.80" y1="233.62" x2="191.00" y2="233.62" stroke="#151515" stroke-width="0.85"/>
<line x1="187.80" y1="242.06" x2="191.00" y2="242.06" stroke="#151515" stroke-width="0.85"/>
<line x1="205.80" y1="230.11" x2="205.80" y2="234.33" stroke="#151515" stroke-width="0.75"/>
<line x1="204.20" y1="230.11" x2="207.40" y2="230.11" stroke="#151515" stroke-width="0.85"/>
<line x1="204.20" y1="234.33" x2="207.40" y2="234.33" stroke="#151515" stroke-width="0.85"/>
<line x1="173.00" y1="239.25" x2="173.00" y2="251.19" stroke="#151515" stroke-width="0.75"/>
<line x1="171.40" y1="239.25" x2="174.60" y2="239.25" stroke="#151515" stroke-width="0.85"/>
<line x1="171.40" y1="251.19" x2="174.60" y2="251.19" stroke="#151515" stroke-width="0.85"/>
<polyline points="156.60,198.50 173.00,198.50 189.40,198.50 205.80,198.50 222.20,198.50" fill="none" stroke="#9a4c3e" stroke-width="1.2" stroke-linejoin="round"/>
<polyline points="156.60,198.50 173.00,202.72 189.40,220.98 205.80,226.60 222.20,218.17" fill="none" stroke="#6a2248" stroke-width="1.0" stroke-linejoin="round"/>
<polyline points="156.60,198.50 173.00,211.15 189.40,237.84 205.80,232.22 222.20,235.03" fill="none" stroke="#3a4228" stroke-width="1.0" stroke-linejoin="round"/>
<polyline points="156.60,198.50 173.00,245.57 189.40,268.75 205.80,268.75 222.20,268.75" fill="none" stroke="#1f3d33" stroke-width="1.0" stroke-linejoin="round"/>
<polyline points="156.60,198.50 173.00,253.29 189.40,268.75 205.80,268.75 222.20,268.75" fill="none" stroke="#22364c" stroke-width="1.0" stroke-linejoin="round"/>
<polyline points="156.60,198.50 173.00,258.92 189.40,268.75 205.80,268.75 222.20,268.75" fill="none" stroke="#d68c52" stroke-width="1.0" stroke-linejoin="round"/>
<polyline points="156.60,198.50 173.00,260.32 189.40,268.75 205.80,268.75 222.20,268.75" fill="none" stroke="#a0507a" stroke-width="1.0" stroke-linejoin="round"/>
<circle cx="173.00" cy="198.50" r="1.15" fill="#9a4c3e"/>
<circle cx="189.40" cy="198.50" r="1.15" fill="#9a4c3e"/>
<circle cx="205.80" cy="198.50" r="1.15" fill="#9a4c3e"/>
<circle cx="222.20" cy="198.50" r="1.15" fill="#9a4c3e"/>
<circle cx="173.00" cy="202.72" r="1.15" fill="#6a2248"/>
<circle cx="189.40" cy="220.98" r="1.15" fill="#6a2248"/>
<circle cx="205.80" cy="226.60" r="1.15" fill="#6a2248"/>
<circle cx="222.20" cy="218.17" r="1.15" fill="#6a2248"/>
<circle cx="173.00" cy="211.15" r="1.15" fill="#3a4228"/>
<circle cx="189.40" cy="237.84" r="1.15" fill="#3a4228"/>
<circle cx="205.80" cy="232.22" r="1.15" fill="#3a4228"/>
<circle cx="222.20" cy="235.03" r="1.15" fill="#3a4228"/>
<circle cx="173.00" cy="245.57" r="1.15" fill="#1f3d33"/>
<circle cx="189.40" cy="268.75" r="1.15" fill="#1f3d33"/>
<circle cx="205.80" cy="268.75" r="1.15" fill="#1f3d33"/>
<circle cx="222.20" cy="268.75" r="1.15" fill="#1f3d33"/>
<circle cx="173.00" cy="253.29" r="1.15" fill="#22364c"/>
<circle cx="189.40" cy="268.75" r="1.15" fill="#22364c"/>
<circle cx="205.80" cy="268.75" r="1.15" fill="#22364c"/>
<circle cx="222.20" cy="268.75" r="1.15" fill="#22364c"/>
<circle cx="173.00" cy="258.92" r="1.15" fill="#d68c52"/>
<circle cx="189.40" cy="268.75" r="1.15" fill="#d68c52"/>
<circle cx="205.80" cy="268.75" r="1.15" fill="#d68c52"/>
<circle cx="222.20" cy="268.75" r="1.15" fill="#d68c52"/>
<circle cx="173.00" cy="260.32" r="1.15" fill="#a0507a"/>
<circle cx="189.40" cy="268.75" r="1.15" fill="#a0507a"/>
<circle cx="205.80" cy="268.75" r="1.15" fill="#a0507a"/>
<circle cx="222.20" cy="268.75" r="1.15" fill="#a0507a"/>
<text x="164.25" y="288.35" font-size="9.6" fill="#1a1a1a" stroke="#1a1a1a" stroke-width="0.2" textLength="47.00" lengthAdjust="spacingAndGlyphs">time (days)</text>
<text x="172.30" y="182.10" font-size="9.8" fill="#1a1a1a" stroke="#1a1a1a" stroke-width="0.28" textLength="27.10" lengthAdjust="spacingAndGlyphs">HL-60</text>
<line x1="226.90" y1="202.50" x2="234.90" y2="202.50" stroke="#9a4c3e" stroke-width="1.3"/>
<circle cx="230.90" cy="202.50" r="1.4" fill="#9a4c3e"/>
<text x="238.50" y="205.13" font-size="7.3" fill="#6c4942" stroke="#6c4942" stroke-width="0.18" textLength="21.90" lengthAdjust="spacingAndGlyphs">DMSO</text>
<line x1="226.90" y1="210.88" x2="234.90" y2="210.88" stroke="#6a2248" stroke-width="1.3"/>
<circle cx="230.90" cy="210.88" r="1.4" fill="#6a2248"/>
<text x="238.50" y="213.51" font-size="7.3" fill="#492b42" stroke="#492b42" stroke-width="0.18" textLength="26.38" lengthAdjust="spacingAndGlyphs">1 ug/mL</text>
<line x1="226.90" y1="219.26" x2="234.90" y2="219.26" stroke="#3a4228" stroke-width="1.3"/>
<circle cx="230.90" cy="219.26" r="1.4" fill="#3a4228"/>
<text x="238.50" y="221.89" font-size="7.3" fill="#3e4932" stroke="#3e4932" stroke-width="0.18" textLength="26.38" lengthAdjust="spacingAndGlyphs">2 ug/mL</text>
<line x1="226.90" y1="227.64" x2="234.90" y2="227.64" stroke="#1f3d33" stroke-width="1.3"/>
<circle cx="230.90" cy="227.64" r="1.4" fill="#1f3d33"/>
<text x="238.50" y="230.27" font-size="7.3" fill="#27493e" stroke="#27493e" stroke-width="0.18" textLength="26.38" lengthAdjust="spacingAndGlyphs">4 ug/mL</text>
<line x1="226.90" y1="236.02" x2="234.90" y2="236.02" stroke="#22364c" stroke-width="1.3"/>
<circle cx="230.90" cy="236.02" r="1.4" fill="#22364c"/>
<text x="238.50" y="238.65" font-size="7.3" fill="#323e55" stroke="#323e55" stroke-width="0.18" textLength="26.38" lengthAdjust="spacingAndGlyphs">6 ug/mL</text>
<line x1="226.90" y1="244.40" x2="234.90" y2="244.40" stroke="#d68c52" stroke-width="1.3"/>
<circle cx="230.90" cy="244.40" r="1.4" fill="#d68c52"/>
<text x="238.50" y="247.03" font-size="7.3" fill="#936042" stroke="#936042" stroke-width="0.18" textLength="26.38" lengthAdjust="spacingAndGlyphs">8 ug/mL</text>
<line x1="226.90" y1="252.78" x2="234.90" y2="252.78" stroke="#a0507a" stroke-width="1.3"/>
<circle cx="230.90" cy="252.78" r="1.4" fill="#a0507a"/>
<text x="238.50" y="255.41" font-size="7.3" fill="#6c3e55" stroke="#6c3e55" stroke-width="0.18" textLength="30.44" lengthAdjust="spacingAndGlyphs">10 ug/mL</text>
<circle cx="202.30" cy="238.00" r="1.3" fill="#1a1a1a"/>
<circle cx="206.20" cy="238.00" r="1.3" fill="#1a1a1a"/>
<circle cx="201.85" cy="262.00" r="1.3" fill="#1a1a1a"/>
<circle cx="205.75" cy="262.00" r="1.3" fill="#1a1a1a"/>
<circle cx="209.65" cy="262.00" r="1.3" fill="#1a1a1a"/>
<line x1="283.40" y1="183.10" x2="283.40" y2="268.85" stroke="#1a1a1a" stroke-width="1.2"/>
<line x1="282.80" y1="268.25" x2="347.80" y2="268.25" stroke="#1a1a1a" stroke-width="1.2"/>
<line x1="281.00" y1="200.00" x2="283.40" y2="200.00" stroke="#1a1a1a" stroke-width="1.0"/>
<text x="280.60" y="202.55" font-size="7.3" fill="#222" stroke="#222" stroke-width="0.2" text-anchor="end" textLength="10.15" lengthAdjust="spacingAndGlyphs">1.0</text>
<line x1="281.00" y1="234.12" x2="283.40" y2="234.12" stroke="#1a1a1a" stroke-width="1.0"/>
<text x="280.60" y="236.68" font-size="7.3" fill="#222" stroke="#222" stroke-width="0.2" text-anchor="end" textLength="10.15" lengthAdjust="spacingAndGlyphs">0.5</text>
<line x1="281.00" y1="268.25" x2="283.40" y2="268.25" stroke="#1a1a1a" stroke-width="1.0"/>
<text x="280.60" y="270.80" font-size="7.3" fill="#222" stroke="#222" stroke-width="0.2" text-anchor="end" textLength="10.15" lengthAdjust="spacingAndGlyphs">0.0</text>
<line x1="283.40" y1="268.25" x2="283.40" y2="270.65" stroke="#1a1a1a" stroke-width="1.0"/>
<text x="283.40" y="277.75" font-size="7.3" fill="#222" stroke="#222" stroke-width="0.2" text-anchor="middle" textLength="4.06" lengthAdjust="spacingAndGlyphs">0</text>
<line x1="299.50" y1="268.25" x2="299.50" y2="270.65" stroke="#1a1a1a" stroke-width="1.0"/>
<text x="299.50" y="277.75" font-size="7.3" fill="#222" stroke="#222" stroke-width="0.2" text-anchor="middle" textLength="4.06" lengthAdjust="spacingAndGlyphs">1</text>
<line x1="315.60" y1="268.25" x2="315.60" y2="270.65" stroke="#1a1a1a" stroke-width="1.0"/>
<text x="315.60" y="277.75" font-size="7.3" fill="#222" stroke="#222" stroke-width="0.2" text-anchor="middle" textLength="4.06" lengthAdjust="spacingAndGlyphs">2</text>
<line x1="331.70" y1="268.25" x2="331.70" y2="270.65" stroke="#1a1a1a" stroke-width="1.0"/>
<text x="331.70" y="277.75" font-size="7.3" fill="#222" stroke="#222" stroke-width="0.2" text-anchor="middle" textLength="4.06" lengthAdjust="spacingAndGlyphs">3</text>
<line x1="347.80" y1="268.25" x2="347.80" y2="270.65" stroke="#1a1a1a" stroke-width="1.0"/>
<text x="347.80" y="277.75" font-size="7.3" fill="#222" stroke="#222" stroke-width="0.2" text-anchor="middle" textLength="4.06" lengthAdjust="spacingAndGlyphs">4</text>
<line x1="299.50" y1="192.49" x2="299.50" y2="205.46" stroke="#151515" stroke-width="0.75"/>
<line x1="297.90" y1="192.49" x2="301.10" y2="192.49" stroke="#151515" stroke-width="0.85"/>
<line x1="297.90" y1="205.46" x2="301.10" y2="205.46" stroke="#151515" stroke-width="0.85"/>
<line x1="315.60" y1="185.67" x2="315.60" y2="220.47" stroke="#151515" stroke-width="0.75"/>
<line x1="314.00" y1="185.67" x2="317.20" y2="185.67" stroke="#151515" stroke-width="0.85"/>
<line x1="314.00" y1="220.47" x2="317.20" y2="220.47" stroke="#151515" stroke-width="0.85"/>
<line x1="331.70" y1="194.54" x2="331.70" y2="206.14" stroke="#151515" stroke-width="0.75"/>
<line x1="330.10" y1="194.54" x2="333.30" y2="194.54" stroke="#151515" stroke-width="0.85"/>
<line x1="330.10" y1="206.14" x2="333.30" y2="206.14" stroke="#151515" stroke-width="0.85"/>
<line x1="347.80" y1="197.95" x2="347.80" y2="202.73" stroke="#151515" stroke-width="0.75"/>
<line x1="346.20" y1="197.95" x2="349.40" y2="197.95" stroke="#151515" stroke-width="0.85"/>
<line x1="346.20" y1="202.73" x2="349.40" y2="202.73" stroke="#151515" stroke-width="0.85"/>
<line x1="299.50" y1="197.95" x2="299.50" y2="203.41" stroke="#151515" stroke-width="0.75"/>
<line x1="297.90" y1="197.95" x2="301.10" y2="197.95" stroke="#151515" stroke-width="0.85"/>
<line x1="297.90" y1="203.41" x2="301.10" y2="203.41" stroke="#151515" stroke-width="0.85"/>
<line x1="315.60" y1="206.82" x2="315.60" y2="219.11" stroke="#151515" stroke-width="0.75"/>
<line x1="314.00" y1="206.82" x2="317.20" y2="206.82" stroke="#151515" stroke-width="0.85"/>
<line x1="314.00" y1="219.11" x2="317.20" y2="219.11" stroke="#151515" stroke-width="0.85"/>
<line x1="331.70" y1="220.47" x2="331.70" y2="224.57" stroke="#151515" stroke-width="0.75"/>
<line x1="330.10" y1="220.47" x2="333.30" y2="220.47" stroke="#151515" stroke-width="0.85"/>
<line x1="330.10" y1="224.57" x2="333.30" y2="224.57" stroke="#151515" stroke-width="0.85"/>
<line x1="347.80" y1="227.30" x2="347.80" y2="239.59" stroke="#151515" stroke-width="0.75"/>
<line x1="346.20" y1="227.30" x2="349.40" y2="227.30" stroke="#151515" stroke-width="0.85"/>
<line x1="346.20" y1="239.59" x2="349.40" y2="239.59" stroke="#151515" stroke-width="0.85"/>
<line x1="299.50" y1="206.14" x2="299.50" y2="210.24" stroke="#151515" stroke-width="0.75"/>
<line x1="297.90" y1="206.14" x2="301.10" y2="206.14" stroke="#151515" stroke-width="0.85"/>
<line x1="297.90" y1="210.24" x2="301.10" y2="210.24" stroke="#151515" stroke-width="0.85"/>
<line x1="315.60" y1="229.35" x2="315.60" y2="236.17" stroke="#151515" stroke-width="0.75"/>
<line x1="314.00" y1="229.35" x2="317.20" y2="229.35" stroke="#151515" stroke-width="0.85"/>
<line x1="314.00" y1="236.17" x2="317.20" y2="236.17" stroke="#151515" stroke-width="0.85"/>
<line x1="331.70" y1="240.95" x2="331.70" y2="246.41" stroke="#151515" stroke-width="0.75"/>
<line x1="330.10" y1="240.95" x2="333.30" y2="240.95" stroke="#151515" stroke-width="0.85"/>
<line x1="330.10" y1="246.41" x2="333.30" y2="246.41" stroke="#151515" stroke-width="0.85"/>
<line x1="299.50" y1="223.20" x2="299.50" y2="232.76" stroke="#151515" stroke-width="0.75"/>
<line x1="297.90" y1="223.20" x2="301.10" y2="223.20" stroke="#151515" stroke-width="0.85"/>
<line x1="297.90" y1="232.76" x2="301.10" y2="232.76" stroke="#151515" stroke-width="0.85"/>
<line x1="315.60" y1="243.68" x2="315.60" y2="249.14" stroke="#151515" stroke-width="0.75"/>
<line x1="314.00" y1="243.68" x2="317.20" y2="243.68" stroke="#151515" stroke-width="0.85"/>
<line x1="314.00" y1="249.14" x2="317.20" y2="249.14" stroke="#151515" stroke-width="0.85"/>
<line x1="331.70" y1="247.78" x2="331.70" y2="253.24" stroke="#151515" stroke-width="0.75"/>
<line x1="330.10" y1="247.78" x2="333.30" y2="247.78" stroke="#151515" stroke-width="0.85"/>
<line x1="330.10" y1="253.24" x2="333.30" y2="253.24" stroke="#151515" stroke-width="0.85"/>
<polyline points="283.40,200.00 299.50,200.00 315.60,200.00 331.70,200.00 347.80,200.00" fill="none" stroke="#9a4c3e" stroke-width="1.2" stroke-linejoin="round"/>
<polyline points="283.40,200.00 299.50,200.68 315.60,212.97 331.70,222.52 347.80,234.12" fill="none" stroke="#6a2248" stroke-width="1.0" stroke-linejoin="round"/>
<polyline points="283.40,200.00 299.50,208.19 315.60,232.76 331.70,243.68 347.80,254.60" fill="none" stroke="#3a4228" stroke-width="1.0" stroke-linejoin="round"/>
<polyline points="283.40,200.00 299.50,228.67 315.60,247.09 331.70,251.19 347.80,260.06" fill="none" stroke="#1f3d33" stroke-width="1.0" stroke-linejoin="round"/>
<polyline points="283.40,200.00 299.50,266.88 315.60,268.25 331.70,268.25 347.80,268.25" fill="none" stroke="#d68c52" stroke-width="1.0" stroke-linejoin="round"/>
<polyline points="283.40,200.00 299.50,266.88 315.60,268.25 331.70,268.25 347.80,268.25" fill="none" stroke="#a0507a" stroke-width="1.0" stroke-linejoin="round"/>
<polyline points="283.40,200.00 299.50,264.84 315.60,268.25 331.70,268.25 347.80,268.25" fill="none" stroke="#22364c" stroke-width="1.0" stroke-linejoin="round"/>
<circle cx="299.50" cy="200.00" r="1.15" fill="#9a4c3e"/>
<circle cx="315.60" cy="200.00" r="1.15" fill="#9a4c3e"/>
<circle cx="331.70" cy="200.00" r="1.15" fill="#9a4c3e"/>
<circle cx="347.80" cy="200.00" r="1.15" fill="#9a4c3e"/>
<circle cx="299.50" cy="200.68" r="1.15" fill="#6a2248"/>
<circle cx="315.60" cy="212.97" r="1.15" fill="#6a2248"/>
<circle cx="331.70" cy="222.52" r="1.15" fill="#6a2248"/>
<circle cx="347.80" cy="234.12" r="1.15" fill="#6a2248"/>
<circle cx="299.50" cy="208.19" r="1.15" fill="#3a4228"/>
<circle cx="315.60" cy="232.76" r="1.15" fill="#3a4228"/>
<circle cx="331.70" cy="243.68" r="1.15" fill="#3a4228"/>
<circle cx="347.80" cy="254.60" r="1.15" fill="#3a4228"/>
<circle cx="299.50" cy="228.67" r="1.15" fill="#1f3d33"/>
<circle cx="315.60" cy="247.09" r="1.15" fill="#1f3d33"/>
<circle cx="331.70" cy="251.19" r="1.15" fill="#1f3d33"/>
<circle cx="347.80" cy="260.06" r="1.15" fill="#1f3d33"/>
<circle cx="299.50" cy="266.88" r="1.15" fill="#d68c52"/>
<circle cx="315.60" cy="268.25" r="1.15" fill="#d68c52"/>
<circle cx="331.70" cy="268.25" r="1.15" fill="#d68c52"/>
<circle cx="347.80" cy="268.25" r="1.15" fill="#d68c52"/>
<circle cx="299.50" cy="266.88" r="1.15" fill="#a0507a"/>
<circle cx="315.60" cy="268.25" r="1.15" fill="#a0507a"/>
<circle cx="331.70" cy="268.25" r="1.15" fill="#a0507a"/>
<circle cx="347.80" cy="268.25" r="1.15" fill="#a0507a"/>
<circle cx="299.50" cy="264.84" r="1.15" fill="#22364c"/>
<circle cx="315.60" cy="268.25" r="1.15" fill="#22364c"/>
<circle cx="331.70" cy="268.25" r="1.15" fill="#22364c"/>
<circle cx="347.80" cy="268.25" r="1.15" fill="#22364c"/>
<text x="295.75" y="287.85" font-size="9.6" fill="#1a1a1a" stroke="#1a1a1a" stroke-width="0.2" textLength="47.25" lengthAdjust="spacingAndGlyphs">time (days)</text>
<text x="304.70" y="182.10" font-size="9.8" fill="#1a1a1a" stroke="#1a1a1a" stroke-width="0.28" textLength="24.70" lengthAdjust="spacingAndGlyphs">THP1</text>
<line x1="352.90" y1="208.90" x2="360.90" y2="208.90" stroke="#9a4c3e" stroke-width="1.3"/>
<circle cx="356.90" cy="208.90" r="1.4" fill="#9a4c3e"/>
<text x="364.50" y="211.53" font-size="7.3" fill="#6c4942" stroke="#6c4942" stroke-width="0.18" textLength="21.90" lengthAdjust="spacingAndGlyphs">DMSO</text>
<line x1="352.90" y1="217.05" x2="360.90" y2="217.05" stroke="#6a2248" stroke-width="1.3"/>
<circle cx="356.90" cy="217.05" r="1.4" fill="#6a2248"/>
<text x="364.50" y="219.68" font-size="7.3" fill="#492b42" stroke="#492b42" stroke-width="0.18" textLength="26.38" lengthAdjust="spacingAndGlyphs">1 ug/mL</text>
<line x1="352.90" y1="225.20" x2="360.90" y2="225.20" stroke="#3a4228" stroke-width="1.3"/>
<circle cx="356.90" cy="225.20" r="1.4" fill="#3a4228"/>
<text x="364.50" y="227.83" font-size="7.3" fill="#3e4932" stroke="#3e4932" stroke-width="0.18" textLength="26.38" lengthAdjust="spacingAndGlyphs">2 ug/mL</text>
<line x1="352.90" y1="233.35" x2="360.90" y2="233.35" stroke="#1f3d33" stroke-width="1.3"/>
<circle cx="356.90" cy="233.35" r="1.4" fill="#1f3d33"/>
<text x="364.50" y="235.98" font-size="7.3" fill="#27493e" stroke="#27493e" stroke-width="0.18" textLength="26.38" lengthAdjust="spacingAndGlyphs">4 ug/mL</text>
<line x1="352.90" y1="241.50" x2="360.90" y2="241.50" stroke="#22364c" stroke-width="1.3"/>
<circle cx="356.90" cy="241.50" r="1.4" fill="#22364c"/>
<text x="364.50" y="244.13" font-size="7.3" fill="#323e55" stroke="#323e55" stroke-width="0.18" textLength="26.38" lengthAdjust="spacingAndGlyphs">6 ug/mL</text>
<line x1="352.90" y1="249.65" x2="360.90" y2="249.65" stroke="#d68c52" stroke-width="1.3"/>
<circle cx="356.90" cy="249.65" r="1.4" fill="#d68c52"/>
<text x="364.50" y="252.28" font-size="7.3" fill="#936042" stroke="#936042" stroke-width="0.18" textLength="26.38" lengthAdjust="spacingAndGlyphs">8 ug/mL</text>
<line x1="352.90" y1="257.80" x2="360.90" y2="257.80" stroke="#a0507a" stroke-width="1.3"/>
<circle cx="356.90" cy="257.80" r="1.4" fill="#a0507a"/>
<text x="364.50" y="260.43" font-size="7.3" fill="#6c3e55" stroke="#6c3e55" stroke-width="0.18" textLength="30.44" lengthAdjust="spacingAndGlyphs">10 ug/mL</text>
<circle cx="337.35" cy="222.00" r="1.3" fill="#1a1a1a"/>
<circle cx="341.25" cy="222.00" r="1.3" fill="#1a1a1a"/>
<circle cx="345.15" cy="222.00" r="1.3" fill="#1a1a1a"/>
<circle cx="337.35" cy="245.50" r="1.3" fill="#1a1a1a"/>
<circle cx="341.25" cy="245.50" r="1.3" fill="#1a1a1a"/>
<circle cx="345.15" cy="245.50" r="1.3" fill="#1a1a1a"/>
<circle cx="334.85" cy="265.00" r="1.3" fill="#1a1a1a"/>
<circle cx="338.75" cy="265.00" r="1.3" fill="#1a1a1a"/>
<circle cx="342.65" cy="265.00" r="1.3" fill="#1a1a1a"/>
<line x1="410.10" y1="181.50" x2="410.10" y2="271.50" stroke="#1a1a1a" stroke-width="1.2"/>
<line x1="409.50" y1="270.90" x2="474.22" y2="270.90" stroke="#1a1a1a" stroke-width="1.2"/>
<line x1="407.70" y1="199.20" x2="410.10" y2="199.20" stroke="#1a1a1a" stroke-width="1.0"/>
<text x="407.30" y="201.75" font-size="7.3" fill="#222" stroke="#222" stroke-width="0.2" text-anchor="end" textLength="10.15" lengthAdjust="spacingAndGlyphs">1.0</text>
<line x1="407.70" y1="235.05" x2="410.10" y2="235.05" stroke="#1a1a1a" stroke-width="1.0"/>
<text x="407.30" y="237.60" font-size="7.3" fill="#222" stroke="#222" stroke-width="0.2" text-anchor="end" textLength="10.15" lengthAdjust="spacingAndGlyphs">0.5</text>
<line x1="407.70" y1="270.90" x2="410.10" y2="270.90" stroke="#1a1a1a" stroke-width="1.0"/>
<text x="407.30" y="273.45" font-size="7.3" fill="#222" stroke="#222" stroke-width="0.2" text-anchor="end" textLength="10.15" lengthAdjust="spacingAndGlyphs">0.0</text>
<line x1="410.10" y1="270.90" x2="410.10" y2="273.30" stroke="#1a1a1a" stroke-width="1.0"/>
<text x="410.10" y="280.40" font-size="7.3" fill="#222" stroke="#222" stroke-width="0.2" text-anchor="middle" textLength="4.06" lengthAdjust="spacingAndGlyphs">0</text>
<line x1="426.13" y1="270.90" x2="426.13" y2="273.30" stroke="#1a1a1a" stroke-width="1.0"/>
<text x="426.13" y="280.40" font-size="7.3" fill="#222" stroke="#222" stroke-width="0.2" text-anchor="middle" textLength="4.06" lengthAdjust="spacingAndGlyphs">1</text>
<line x1="442.16" y1="270.90" x2="442.16" y2="273.30" stroke="#1a1a1a" stroke-width="1.0"/>
<text x="442.16" y="280.40" font-size="7.3" fill="#222" stroke="#222" stroke-width="0.2" text-anchor="middle" textLength="4.06" lengthAdjust="spacingAndGlyphs">2</text>
<line x1="458.19" y1="270.90" x2="458.19" y2="273.30" stroke="#1a1a1a" stroke-width="1.0"/>
<text x="458.19" y="280.40" font-size="7.3" fill="#222" stroke="#222" stroke-width="0.2" text-anchor="middle" textLength="4.06" lengthAdjust="spacingAndGlyphs">3</text>
<line x1="474.22" y1="270.90" x2="474.22" y2="273.30" stroke="#1a1a1a" stroke-width="1.0"/>
<text x="474.22" y="280.40" font-size="7.3" fill="#222" stroke="#222" stroke-width="0.2" text-anchor="middle" textLength="4.06" lengthAdjust="spacingAndGlyphs">4</text>
<line x1="426.13" y1="183.43" x2="426.13" y2="213.54" stroke="#151515" stroke-width="0.75"/>
<line x1="424.53" y1="183.43" x2="427.73" y2="183.43" stroke="#151515" stroke-width="0.85"/>
<line x1="424.53" y1="213.54" x2="427.73" y2="213.54" stroke="#151515" stroke-width="0.85"/>
<line x1="442.16" y1="193.46" x2="442.16" y2="206.37" stroke="#151515" stroke-width="0.75"/>
<line x1="440.56" y1="193.46" x2="443.76" y2="193.46" stroke="#151515" stroke-width="0.85"/>
<line x1="440.56" y1="206.37" x2="443.76" y2="206.37" stroke="#151515" stroke-width="0.85"/>
<line x1="458.19" y1="192.75" x2="458.19" y2="205.65" stroke="#151515" stroke-width="0.75"/>
<line x1="456.59" y1="192.75" x2="459.79" y2="192.75" stroke="#151515" stroke-width="0.85"/>
<line x1="456.59" y1="205.65" x2="459.79" y2="205.65" stroke="#151515" stroke-width="0.85"/>
<line x1="474.22" y1="193.46" x2="474.22" y2="204.94" stroke="#151515" stroke-width="0.75"/>
<line x1="472.62" y1="193.46" x2="475.82" y2="193.46" stroke="#151515" stroke-width="0.85"/>
<line x1="472.62" y1="204.94" x2="475.82" y2="204.94" stroke="#151515" stroke-width="0.85"/>
<line x1="458.19" y1="210.67" x2="458.19" y2="216.41" stroke="#151515" stroke-width="0.75"/>
<line x1="456.59" y1="210.67" x2="459.79" y2="210.67" stroke="#151515" stroke-width="0.85"/>
<line x1="456.59" y1="216.41" x2="459.79" y2="216.41" stroke="#151515" stroke-width="0.85"/>
<line x1="474.22" y1="226.45" x2="474.22" y2="231.46" stroke="#151515" stroke-width="0.75"/>
<line x1="472.62" y1="226.45" x2="475.82" y2="226.45" stroke="#151515" stroke-width="0.85"/>
<line x1="472.62" y1="231.46" x2="475.82" y2="231.46" stroke="#151515" stroke-width="0.85"/>
<line x1="442.16" y1="206.37" x2="442.16" y2="217.12" stroke="#151515" stroke-width="0.75"/>
<line x1="440.56" y1="206.37" x2="443.76" y2="206.37" stroke="#151515" stroke-width="0.85"/>
<line x1="440.56" y1="217.12" x2="443.76" y2="217.12" stroke="#151515" stroke-width="0.85"/>
<line x1="458.19" y1="224.29" x2="458.19" y2="235.05" stroke="#151515" stroke-width="0.75"/>
<line x1="456.59" y1="224.29" x2="459.79" y2="224.29" stroke="#151515" stroke-width="0.85"/>
<line x1="456.59" y1="235.05" x2="459.79" y2="235.05" stroke="#151515" stroke-width="0.85"/>
<line x1="474.22" y1="242.22" x2="474.22" y2="249.39" stroke="#151515" stroke-width="0.75"/>
<line x1="472.62" y1="242.22" x2="475.82" y2="242.22" stroke="#151515" stroke-width="0.85"/>
<line x1="472.62" y1="249.39" x2="475.82" y2="249.39" stroke="#151515" stroke-width="0.85"/>
<line x1="442.16" y1="219.28" x2="442.16" y2="227.88" stroke="#151515" stroke-width="0.75"/>
<line x1="440.56" y1="219.28" x2="443.76" y2="219.28" stroke="#151515" stroke-width="0.85"/>
<line x1="440.56" y1="227.88" x2="443.76" y2="227.88" stroke="#151515" stroke-width="0.85"/>
<line x1="458.19" y1="238.63" x2="458.19" y2="245.09" stroke="#151515" stroke-width="0.75"/>
<line x1="456.59" y1="238.63" x2="459.79" y2="238.63" stroke="#151515" stroke-width="0.85"/>
<line x1="456.59" y1="245.09" x2="459.79" y2="245.09" stroke="#151515" stroke-width="0.85"/>
<line x1="442.16" y1="227.88" x2="442.16" y2="233.62" stroke="#151515" stroke-width="0.75"/>
<line x1="440.56" y1="227.88" x2="443.76" y2="227.88" stroke="#151515" stroke-width="0.85"/>
<line x1="440.56" y1="233.62" x2="443.76" y2="233.62" stroke="#151515" stroke-width="0.85"/>
<line x1="458.19" y1="248.67" x2="458.19" y2="252.97" stroke="#151515" stroke-width="0.75"/>
<line x1="456.59" y1="248.67" x2="459.79" y2="248.67" stroke="#151515" stroke-width="0.85"/>
<line x1="456.59" y1="252.97" x2="459.79" y2="252.97" stroke="#151515" stroke-width="0.85"/>
<polyline points="410.10,199.20 426.13,199.20 442.16,199.20 458.19,199.20 474.22,199.20" fill="none" stroke="#9a4c3e" stroke-width="1.2" stroke-linejoin="round"/>
<polyline points="410.10,199.20 426.13,195.61 442.16,207.80 458.19,213.54 474.22,229.31" fill="none" stroke="#6a2248" stroke-width="1.0" stroke-linejoin="round"/>
<polyline points="410.10,199.20 426.13,194.18 442.16,209.95 458.19,227.88 474.22,243.65" fill="none" stroke="#3a4228" stroke-width="1.0" stroke-linejoin="round"/>
<polyline points="410.10,199.20 426.13,195.61 442.16,211.39 458.19,230.03 474.22,245.80" fill="none" stroke="#1f3d33" stroke-width="1.0" stroke-linejoin="round"/>
<polyline points="410.10,199.20 426.13,199.20 442.16,212.11 458.19,231.46 474.22,247.24" fill="none" stroke="#22364c" stroke-width="1.0" stroke-linejoin="round"/>
<polyline points="410.10,199.20 426.13,200.63 442.16,217.12 458.19,238.63 474.22,249.39" fill="none" stroke="#d68c52" stroke-width="1.0" stroke-linejoin="round"/>
<polyline points="410.10,199.20 426.13,202.07 442.16,224.29 458.19,242.22 474.22,252.97" fill="none" stroke="#a0507a" stroke-width="1.0" stroke-linejoin="round"/>
<polyline points="410.10,199.20 426.13,209.95 442.16,230.39 458.19,250.82 474.22,258.71" fill="none" stroke="#7a9450" stroke-width="1.0" stroke-linejoin="round"/>
<circle cx="426.13" cy="199.20" r="1.15" fill="#9a4c3e"/>
<circle cx="442.16" cy="199.20" r="1.15" fill="#9a4c3e"/>
<circle cx="458.19" cy="199.20" r="1.15" fill="#9a4c3e"/>
<circle cx="474.22" cy="199.20" r="1.15" fill="#9a4c3e"/>
<circle cx="426.13" cy="195.61" r="1.15" fill="#6a2248"/>
<circle cx="442.16" cy="207.80" r="1.15" fill="#6a2248"/>
<circle cx="458.19" cy="213.54" r="1.15" fill="#6a2248"/>
<circle cx="474.22" cy="229.31" r="1.15" fill="#6a2248"/>
<circle cx="426.13" cy="194.18" r="1.15" fill="#3a4228"/>
<circle cx="442.16" cy="209.95" r="1.15" fill="#3a4228"/>
<circle cx="458.19" cy="227.88" r="1.15" fill="#3a4228"/>
<circle cx="474.22" cy="243.65" r="1.15" fill="#3a4228"/>
<circle cx="426.13" cy="195.61" r="1.15" fill="#1f3d33"/>
<circle cx="442.16" cy="211.39" r="1.15" fill="#1f3d33"/>
<circle cx="458.19" cy="230.03" r="1.15" fill="#1f3d33"/>
<circle cx="474.22" cy="245.80" r="1.15" fill="#1f3d33"/>
<circle cx="426.13" cy="199.20" r="1.15" fill="#22364c"/>
<circle cx="442.16" cy="212.11" r="1.15" fill="#22364c"/>
<circle cx="458.19" cy="231.46" r="1.15" fill="#22364c"/>
<circle cx="474.22" cy="247.24" r="1.15" fill="#22364c"/>
<circle cx="426.13" cy="200.63" r="1.15" fill="#d68c52"/>
<circle cx="442.16" cy="217.12" r="1.15" fill="#d68c52"/>
<circle cx="458.19" cy="238.63" r="1.15" fill="#d68c52"/>
<circle cx="474.22" cy="249.39" r="1.15" fill="#d68c52"/>
<circle cx="426.13" cy="202.07" r="1.15" fill="#a0507a"/>
<circle cx="442.16" cy="224.29" r="1.15" fill="#a0507a"/>
<circle cx="458.19" cy="242.22" r="1.15" fill="#a0507a"/>
<circle cx="474.22" cy="252.97" r="1.15" fill="#a0507a"/>
<circle cx="426.13" cy="209.95" r="1.15" fill="#7a9450"/>
<circle cx="442.16" cy="230.39" r="1.15" fill="#7a9450"/>
<circle cx="458.19" cy="250.82" r="1.15" fill="#7a9450"/>
<circle cx="474.22" cy="258.71" r="1.15" fill="#7a9450"/>
<text x="423.90" y="290.50" font-size="9.6" fill="#1a1a1a" stroke="#1a1a1a" stroke-width="0.2" textLength="47.10" lengthAdjust="spacingAndGlyphs">time (days)</text>
<text x="432.80" y="182.10" font-size="9.8" fill="#1a1a1a" stroke="#1a1a1a" stroke-width="0.28" textLength="25.90" lengthAdjust="spacingAndGlyphs">KG1a</text>
<line x1="479.50" y1="202.90" x2="487.60" y2="202.90" stroke="#9a4c3e" stroke-width="1.3"/>
<circle cx="483.55" cy="202.90" r="1.4" fill="#9a4c3e"/>
<text x="490.70" y="205.46" font-size="7.1" fill="#6c4942" stroke="#6c4942" stroke-width="0.18" textLength="21.30" lengthAdjust="spacingAndGlyphs">DMSO</text>
<line x1="479.50" y1="211.36" x2="487.60" y2="211.36" stroke="#6a2248" stroke-width="1.3"/>
<circle cx="483.55" cy="211.36" r="1.4" fill="#6a2248"/>
<text x="490.70" y="213.92" font-size="7.1" fill="#492b42" stroke="#492b42" stroke-width="0.18" textLength="27.63" lengthAdjust="spacingAndGlyphs">.1 ug/mL</text>
<line x1="479.50" y1="219.82" x2="487.60" y2="219.82" stroke="#3a6a3a" stroke-width="1.3"/>
<circle cx="483.55" cy="219.82" r="1.4" fill="#3a6a3a"/>
<text x="490.70" y="222.38" font-size="7.1" fill="#325532" stroke="#325532" stroke-width="0.18" textLength="27.63" lengthAdjust="spacingAndGlyphs">.5 ug/mL</text>
<line x1="479.50" y1="228.28" x2="487.60" y2="228.28" stroke="#1f3d33" stroke-width="1.3"/>
<circle cx="483.55" cy="228.28" r="1.4" fill="#1f3d33"/>
<text x="490.70" y="230.84" font-size="7.1" fill="#27323e" stroke="#27323e" stroke-width="0.18" textLength="25.65" lengthAdjust="spacingAndGlyphs">1 ug/mL</text>
<line x1="479.50" y1="236.74" x2="487.60" y2="236.74" stroke="#22364c" stroke-width="1.3"/>
<circle cx="483.55" cy="236.74" r="1.4" fill="#22364c"/>
<text x="490.70" y="239.30" font-size="7.1" fill="#273249" stroke="#273249" stroke-width="0.18" textLength="25.65" lengthAdjust="spacingAndGlyphs">2 ug/mL</text>
<line x1="479.50" y1="245.20" x2="487.60" y2="245.20" stroke="#d68c52" stroke-width="1.3"/>
<circle cx="483.55" cy="245.20" r="1.4" fill="#d68c52"/>
<text x="490.70" y="247.76" font-size="7.1" fill="#9e7059" stroke="#9e7059" stroke-width="0.18" textLength="25.65" lengthAdjust="spacingAndGlyphs">4 ug/mL</text>
<line x1="479.50" y1="253.66" x2="487.60" y2="253.66" stroke="#a0507a" stroke-width="1.3"/>
<circle cx="483.55" cy="253.66" r="1.4" fill="#a0507a"/>
<text x="490.70" y="256.22" font-size="7.1" fill="#7c4265" stroke="#7c4265" stroke-width="0.18" textLength="25.65" lengthAdjust="spacingAndGlyphs">6 ug/mL</text>
<line x1="479.50" y1="262.12" x2="487.60" y2="262.12" stroke="#7a9450" stroke-width="1.3"/>
<circle cx="483.55" cy="262.12" r="1.4" fill="#7a9450"/>
<text x="490.70" y="264.68" font-size="7.1" fill="#606c49" stroke="#606c49" stroke-width="0.18" textLength="25.65" lengthAdjust="spacingAndGlyphs">8 ug/mL</text>
<circle cx="464.85" cy="216.25" r="1.3" fill="#1a1a1a"/>
<circle cx="468.75" cy="216.25" r="1.3" fill="#1a1a1a"/>
<circle cx="472.65" cy="216.25" r="1.3" fill="#1a1a1a"/>
<circle cx="467.35" cy="233.75" r="1.3" fill="#1a1a1a"/>
<circle cx="471.25" cy="233.75" r="1.3" fill="#1a1a1a"/>
<circle cx="475.15" cy="233.75" r="1.3" fill="#1a1a1a"/>
<circle cx="464.10" cy="261.25" r="1.3" fill="#1a1a1a"/>
<circle cx="468.00" cy="261.25" r="1.3" fill="#1a1a1a"/>
<circle cx="471.90" cy="261.25" r="1.3" fill="#1a1a1a"/>
<text x="4.40" y="310.50" font-size="11.5" fill="#1a1a1a" stroke="#1a1a1a" stroke-width="0.2" font-weight="bold" textLength="8.30" lengthAdjust="spacingAndGlyphs">C</text>
<rect x="46.20" y="342.20" width="21.00" height="68.10" fill="#0a0a0a"/>
<line x1="56.70" y1="342.20" x2="56.70" y2="335.39" stroke="#1a1a1a" stroke-width="1.1"/>
<line x1="50.61" y1="335.39" x2="62.79" y2="335.39" stroke="#1a1a1a" stroke-width="1.1"/>
<rect x="76.50" y="338.11" width="21.50" height="72.19" fill="#a3a3a3"/>
<line x1="87.25" y1="338.11" x2="87.25" y2="336.07" stroke="#1a1a1a" stroke-width="1.1"/>
<line x1="81.02" y1="336.07" x2="93.48" y2="336.07" stroke="#1a1a1a" stroke-width="1.1"/>
<rect x="107.00" y="393.28" width="21.20" height="17.02" fill="#7c7c7c"/>
<line x1="117.60" y1="393.28" x2="117.60" y2="389.19" stroke="#1a1a1a" stroke-width="1.1"/>
<line x1="111.45" y1="389.19" x2="123.75" y2="389.19" stroke="#1a1a1a" stroke-width="1.1"/>
<line x1="41.00" y1="328.08" x2="41.00" y2="410.90" stroke="#1a1a1a" stroke-width="1.2"/>
<line x1="40.40" y1="410.30" x2="154.60" y2="410.30" stroke="#1a1a1a" stroke-width="1.2"/>
<line x1="38.00" y1="410.30" x2="41.00" y2="410.30" stroke="#1a1a1a" stroke-width="1.0"/>
<text x="38.00" y="413.34" font-size="8.36" fill="#111" stroke="#111" stroke-width="0.2" text-anchor="end" textLength="10.57" lengthAdjust="spacingAndGlyphs">0.0</text>
<line x1="38.00" y1="396.68" x2="41.00" y2="396.68" stroke="#1a1a1a" stroke-width="1.0"/>
<text x="38.00" y="399.72" font-size="8.36" fill="#111" stroke="#111" stroke-width="0.2" text-anchor="end" textLength="10.57" lengthAdjust="spacingAndGlyphs">0.2</text>
<line x1="38.00" y1="383.06" x2="41.00" y2="383.06" stroke="#1a1a1a" stroke-width="1.0"/>
<text x="38.00" y="386.10" font-size="8.36" fill="#111" stroke="#111" stroke-width="0.2" text-anchor="end" textLength="10.57" lengthAdjust="spacingAndGlyphs">0.4</text>
<line x1="38.00" y1="369.44" x2="41.00" y2="369.44" stroke="#1a1a1a" stroke-width="1.0"/>
<text x="38.00" y="372.48" font-size="8.36" fill="#111" stroke="#111" stroke-width="0.2" text-anchor="end" textLength="10.57" lengthAdjust="spacingAndGlyphs">0.6</text>
<line x1="38.00" y1="355.82" x2="41.00" y2="355.82" stroke="#1a1a1a" stroke-width="1.0"/>
<text x="38.00" y="358.86" font-size="8.36" fill="#111" stroke="#111" stroke-width="0.2" text-anchor="end" textLength="10.57" lengthAdjust="spacingAndGlyphs">0.8</text>
<line x1="38.00" y1="342.20" x2="41.00" y2="342.20" stroke="#1a1a1a" stroke-width="1.0"/>
<text x="38.00" y="345.24" font-size="8.36" fill="#111" stroke="#111" stroke-width="0.2" text-anchor="end" textLength="10.57" lengthAdjust="spacingAndGlyphs">1.0</text>
<line x1="38.00" y1="328.58" x2="41.00" y2="328.58" stroke="#1a1a1a" stroke-width="1.0"/>
<text x="38.00" y="331.62" font-size="8.36" fill="#111" stroke="#111" stroke-width="0.2" text-anchor="end" textLength="10.57" lengthAdjust="spacingAndGlyphs">1.2</text>
<line x1="56.70" y1="410.30" x2="56.70" y2="413.30" stroke="#1a1a1a" stroke-width="1.0"/>
<line x1="87.25" y1="410.30" x2="87.25" y2="413.30" stroke="#1a1a1a" stroke-width="1.0"/>
<line x1="117.60" y1="410.30" x2="117.60" y2="413.30" stroke="#1a1a1a" stroke-width="1.0"/>
<line x1="148.00" y1="410.30" x2="148.00" y2="413.30" stroke="#1a1a1a" stroke-width="1.0"/>
<circle cx="114.90" cy="369.10" r="1.25" fill="#1a1a1a"/>
<circle cx="118.90" cy="369.10" r="1.25" fill="#1a1a1a"/>
<circle cx="141.85" cy="369.10" r="1.25" fill="#1a1a1a"/>
<circle cx="145.85" cy="369.10" r="1.25" fill="#1a1a1a"/>
<text x="84.20" y="313.80" font-size="9.8" fill="#1a1a1a" stroke="#1a1a1a" stroke-width="0.3" textLength="27.40" lengthAdjust="spacingAndGlyphs">THP-1</text>
<text x="20.30" y="374.50" font-size="9.5" fill="#1a1a1a" stroke="#1a1a1a" stroke-width="0.2" text-anchor="middle" textLength="118.90" lengthAdjust="spacingAndGlyphs" transform="rotate(-90 20.30 374.50)">colonies (relative to DMSO)</text>
<text x="55.40" y="428.00" font-size="10.45" fill="#1a1a1a" stroke="#1a1a1a" stroke-width="0.2" text-anchor="middle" textLength="28.50" lengthAdjust="spacingAndGlyphs">DMSO</text>
<text x="87.50" y="428.00" font-size="10.45" fill="#1a1a1a" stroke="#1a1a1a" stroke-width="0.2" text-anchor="middle" textLength="5.28" lengthAdjust="spacingAndGlyphs">1</text>
<text x="117.70" y="428.00" font-size="10.45" fill="#1a1a1a" stroke="#1a1a1a" stroke-width="0.2" text-anchor="middle" textLength="5.28" lengthAdjust="spacingAndGlyphs">4</text>
<text x="147.70" y="428.00" font-size="10.45" fill="#1a1a1a" stroke="#1a1a1a" stroke-width="0.2" text-anchor="middle" textLength="10.57" lengthAdjust="spacingAndGlyphs">10</text>
<line x1="84.00" y1="434.90" x2="154.30" y2="434.90" stroke="#6a6a6a" stroke-width="1.2"/>
<text x="94.40" y="446.20" font-size="10.26" fill="#1a1a1a" stroke="#1a1a1a" stroke-width="0.2" textLength="51.60" lengthAdjust="spacingAndGlyphs">ug/mL IPA-3</text>
<rect x="219.80" y="342.40" width="21.40" height="68.20" fill="#0a0a0a"/>
<line x1="230.50" y1="342.40" x2="230.50" y2="338.99" stroke="#1a1a1a" stroke-width="1.1"/>
<line x1="224.29" y1="338.99" x2="236.71" y2="338.99" stroke="#1a1a1a" stroke-width="1.1"/>
<rect x="250.40" y="349.22" width="21.10" height="61.38" fill="#a3a3a3"/>
<line x1="260.95" y1="349.22" x2="260.95" y2="348.20" stroke="#1a1a1a" stroke-width="1.1"/>
<line x1="254.83" y1="348.20" x2="267.07" y2="348.20" stroke="#1a1a1a" stroke-width="1.1"/>
<rect x="280.80" y="366.95" width="21.30" height="43.65" fill="#7c7c7c"/>
<line x1="291.45" y1="366.95" x2="291.45" y2="366.27" stroke="#1a1a1a" stroke-width="1.1"/>
<line x1="285.27" y1="366.27" x2="297.63" y2="366.27" stroke="#1a1a1a" stroke-width="1.1"/>
<rect x="317.30" y="409.78" width="10.10" height="0.82" fill="#555"/>
<line x1="214.60" y1="328.26" x2="214.60" y2="411.20" stroke="#1a1a1a" stroke-width="1.2"/>
<line x1="214.00" y1="410.60" x2="337.00" y2="410.60" stroke="#1a1a1a" stroke-width="1.2"/>
<line x1="211.60" y1="410.60" x2="214.60" y2="410.60" stroke="#1a1a1a" stroke-width="1.0"/>
<text x="212.00" y="413.72" font-size="8.58" fill="#111" stroke="#111" stroke-width="0.2" text-anchor="end" textLength="10.84" lengthAdjust="spacingAndGlyphs">0.0</text>
<line x1="211.60" y1="396.96" x2="214.60" y2="396.96" stroke="#1a1a1a" stroke-width="1.0"/>
<text x="212.00" y="400.08" font-size="8.58" fill="#111" stroke="#111" stroke-width="0.2" text-anchor="end" textLength="10.84" lengthAdjust="spacingAndGlyphs">0.2</text>
<line x1="211.60" y1="383.32" x2="214.60" y2="383.32" stroke="#1a1a1a" stroke-width="1.0"/>
<text x="212.00" y="386.44" font-size="8.58" fill="#111" stroke="#111" stroke-width="0.2" text-anchor="end" textLength="10.84" lengthAdjust="spacingAndGlyphs">0.4</text>
<line x1="211.60" y1="369.68" x2="214.60" y2="369.68" stroke="#1a1a1a" stroke-width="1.0"/>
<text x="212.00" y="372.80" font-size="8.58" fill="#111" stroke="#111" stroke-width="0.2" text-anchor="end" textLength="10.84" lengthAdjust="spacingAndGlyphs">0.6</text>
<line x1="211.60" y1="356.04" x2="214.60" y2="356.04" stroke="#1a1a1a" stroke-width="1.0"/>
<text x="212.00" y="359.16" font-size="8.58" fill="#111" stroke="#111" stroke-width="0.2" text-anchor="end" textLength="10.84" lengthAdjust="spacingAndGlyphs">0.8</text>
<line x1="211.60" y1="342.40" x2="214.60" y2="342.40" stroke="#1a1a1a" stroke-width="1.0"/>
<text x="212.00" y="345.52" font-size="8.58" fill="#111" stroke="#111" stroke-width="0.2" text-anchor="end" textLength="10.84" lengthAdjust="spacingAndGlyphs">1.0</text>
<line x1="211.60" y1="328.76" x2="214.60" y2="328.76" stroke="#1a1a1a" stroke-width="1.0"/>
<text x="212.00" y="331.88" font-size="8.58" fill="#111" stroke="#111" stroke-width="0.2" text-anchor="end" textLength="10.84" lengthAdjust="spacingAndGlyphs">1.2</text>
<line x1="230.50" y1="410.60" x2="230.50" y2="413.60" stroke="#1a1a1a" stroke-width="1.0"/>
<line x1="261.00" y1="410.60" x2="261.00" y2="413.60" stroke="#1a1a1a" stroke-width="1.0"/>
<line x1="291.50" y1="410.60" x2="291.50" y2="413.60" stroke="#1a1a1a" stroke-width="1.0"/>
<line x1="322.30" y1="410.60" x2="322.30" y2="413.60" stroke="#1a1a1a" stroke-width="1.0"/>
<circle cx="289.40" cy="349.60" r="1.25" fill="#1a1a1a"/>
<circle cx="293.40" cy="349.60" r="1.25" fill="#1a1a1a"/>
<circle cx="297.40" cy="349.60" r="1.25" fill="#1a1a1a"/>
<circle cx="316.20" cy="349.60" r="1.25" fill="#1a1a1a"/>
<circle cx="320.20" cy="349.60" r="1.25" fill="#1a1a1a"/>
<circle cx="324.20" cy="349.60" r="1.25" fill="#1a1a1a"/>
<text x="268.40" y="313.90" font-size="9.8" fill="#1a1a1a" stroke="#1a1a1a" stroke-width="0.3" textLength="43.60" lengthAdjust="spacingAndGlyphs">MOLM-13</text>
<text x="192.70" y="369.20" font-size="9.5" fill="#1a1a1a" stroke="#1a1a1a" stroke-width="0.2" text-anchor="middle" textLength="119.70" lengthAdjust="spacingAndGlyphs" transform="rotate(-90 192.70 369.20)">colonies (relative to DMSO)</text>
<text x="233.70" y="426.80" font-size="10.45" fill="#1a1a1a" stroke="#1a1a1a" stroke-width="0.2" text-anchor="middle" textLength="28.50" lengthAdjust="spacingAndGlyphs">DMSO</text>
<text x="260.70" y="426.80" font-size="10.45" fill="#1a1a1a" stroke="#1a1a1a" stroke-width="0.2" text-anchor="middle" textLength="5.28" lengthAdjust="spacingAndGlyphs">1</text>
<text x="291.40" y="426.80" font-size="10.45" fill="#1a1a1a" stroke="#1a1a1a" stroke-width="0.2" text-anchor="middle" textLength="5.28" lengthAdjust="spacingAndGlyphs">4</text>
<text x="322.00" y="426.80" font-size="10.45" fill="#1a1a1a" stroke="#1a1a1a" stroke-width="0.2" text-anchor="middle" textLength="10.57" lengthAdjust="spacingAndGlyphs">10</text>
<line x1="261.90" y1="434.90" x2="332.80" y2="434.90" stroke="#6a6a6a" stroke-width="1.2"/>
<text x="271.50" y="445.70" font-size="10.26" fill="#1a1a1a" stroke="#1a1a1a" stroke-width="0.2" textLength="49.30" lengthAdjust="spacingAndGlyphs">ug/mL IPA-3</text>
<text x="4.10" y="470.50" font-size="11.5" fill="#1a1a1a" stroke="#1a1a1a" stroke-width="0.2" font-weight="bold" textLength="8.30" lengthAdjust="spacingAndGlyphs">D</text>
<rect x="45.80" y="507.30" width="23.00" height="74.80" fill="#0a0a0a"/>
<line x1="57.30" y1="507.30" x2="57.30" y2="498.32" stroke="#1a1a1a" stroke-width="1.1"/>
<line x1="50.63" y1="498.32" x2="63.97" y2="498.32" stroke="#1a1a1a" stroke-width="1.1"/>
<rect x="79.20" y="534.98" width="23.10" height="47.12" fill="#a3a3a3"/>
<line x1="90.75" y1="534.98" x2="90.75" y2="530.49" stroke="#1a1a1a" stroke-width="1.1"/>
<line x1="84.05" y1="530.49" x2="97.45" y2="530.49" stroke="#1a1a1a" stroke-width="1.1"/>
<rect x="113.30" y="540.21" width="23.00" height="41.89" fill="#7c7c7c"/>
<line x1="124.80" y1="540.21" x2="124.80" y2="535.72" stroke="#1a1a1a" stroke-width="1.1"/>
<line x1="118.13" y1="535.72" x2="131.47" y2="535.72" stroke="#1a1a1a" stroke-width="1.1"/>
<rect x="146.70" y="558.91" width="23.30" height="23.19" fill="#d2d2d2"/>
<line x1="158.35" y1="558.91" x2="158.35" y2="552.93" stroke="#1a1a1a" stroke-width="1.1"/>
<line x1="151.59" y1="552.93" x2="165.11" y2="552.93" stroke="#1a1a1a" stroke-width="1.1"/>
<line x1="40.60" y1="491.84" x2="40.60" y2="582.70" stroke="#1a1a1a" stroke-width="1.2"/>
<line x1="40.00" y1="582.10" x2="174.60" y2="582.10" stroke="#1a1a1a" stroke-width="1.2"/>
<line x1="36.80" y1="582.10" x2="40.60" y2="582.10" stroke="#1a1a1a" stroke-width="1.0"/>
<text x="35.70" y="585.70" font-size="9.9" fill="#111" stroke="#111" stroke-width="0.2" text-anchor="end" textLength="12.51" lengthAdjust="spacingAndGlyphs">0.0</text>
<line x1="36.80" y1="567.14" x2="40.60" y2="567.14" stroke="#1a1a1a" stroke-width="1.0"/>
<text x="35.70" y="570.74" font-size="9.9" fill="#111" stroke="#111" stroke-width="0.2" text-anchor="end" textLength="12.51" lengthAdjust="spacingAndGlyphs">0.2</text>
<line x1="36.80" y1="552.18" x2="40.60" y2="552.18" stroke="#1a1a1a" stroke-width="1.0"/>
<text x="35.70" y="555.78" font-size="9.9" fill="#111" stroke="#111" stroke-width="0.2" text-anchor="end" textLength="12.51" lengthAdjust="spacingAndGlyphs">0.4</text>
<line x1="36.80" y1="537.22" x2="40.60" y2="537.22" stroke="#1a1a1a" stroke-width="1.0"/>
<text x="35.70" y="540.82" font-size="9.9" fill="#111" stroke="#111" stroke-width="0.2" text-anchor="end" textLength="12.51" lengthAdjust="spacingAndGlyphs">0.6</text>
<line x1="36.80" y1="522.26" x2="40.60" y2="522.26" stroke="#1a1a1a" stroke-width="1.0"/>
<text x="35.70" y="525.86" font-size="9.9" fill="#111" stroke="#111" stroke-width="0.2" text-anchor="end" textLength="12.51" lengthAdjust="spacingAndGlyphs">0.8</text>
<line x1="36.80" y1="507.30" x2="40.60" y2="507.30" stroke="#1a1a1a" stroke-width="1.0"/>
<text x="35.70" y="510.90" font-size="9.9" fill="#111" stroke="#111" stroke-width="0.2" text-anchor="end" textLength="12.51" lengthAdjust="spacingAndGlyphs">1.0</text>
<line x1="36.80" y1="492.34" x2="40.60" y2="492.34" stroke="#1a1a1a" stroke-width="1.0"/>
<text x="35.70" y="495.94" font-size="9.9" fill="#111" stroke="#111" stroke-width="0.2" text-anchor="end" textLength="12.51" lengthAdjust="spacingAndGlyphs">1.2</text>
<line x1="57.30" y1="582.10" x2="57.30" y2="585.10" stroke="#1a1a1a" stroke-width="1.0"/>
<line x1="90.80" y1="582.10" x2="90.80" y2="585.10" stroke="#1a1a1a" stroke-width="1.0"/>
<line x1="124.80" y1="582.10" x2="124.80" y2="585.10" stroke="#1a1a1a" stroke-width="1.0"/>
<line x1="158.50" y1="582.10" x2="158.50" y2="585.10" stroke="#1a1a1a" stroke-width="1.0"/>
<circle cx="93.20" cy="512.30" r="1.25" fill="#1a1a1a"/>
<circle cx="123.90" cy="512.30" r="1.25" fill="#1a1a1a"/>
<circle cx="127.90" cy="512.30" r="1.25" fill="#1a1a1a"/>
<circle cx="157.00" cy="512.30" r="1.25" fill="#1a1a1a"/>
<circle cx="161.00" cy="512.30" r="1.25" fill="#1a1a1a"/>
<text x="92.80" y="486.50" font-size="9.8" fill="#1a1a1a" stroke="#1a1a1a" stroke-width="0.3" textLength="27.60" lengthAdjust="spacingAndGlyphs">THP-1</text>
<text x="18.80" y="538.20" font-size="9.5" fill="#1a1a1a" stroke="#1a1a1a" stroke-width="0.2" text-anchor="middle" textLength="117.60" lengthAdjust="spacingAndGlyphs" transform="rotate(-90 18.80 538.20)">colonies (relative to DMSO)</text>
<text x="57.40" y="601.60" font-size="10.45" fill="#1a1a1a" stroke="#1a1a1a" stroke-width="0.2" text-anchor="middle" textLength="28.50" lengthAdjust="spacingAndGlyphs">DMSO</text>
<text x="90.20" y="601.60" font-size="10.45" fill="#1a1a1a" stroke="#1a1a1a" stroke-width="0.2" text-anchor="middle" textLength="5.28" lengthAdjust="spacingAndGlyphs">2</text>
<text x="120.20" y="601.60" font-size="10.45" fill="#1a1a1a" stroke="#1a1a1a" stroke-width="0.2" text-anchor="middle" textLength="5.28" lengthAdjust="spacingAndGlyphs">4</text>
<text x="150.50" y="601.60" font-size="10.45" fill="#1a1a1a" stroke="#1a1a1a" stroke-width="0.2" text-anchor="middle" textLength="10.57" lengthAdjust="spacingAndGlyphs">10</text>
<line x1="86.00" y1="608.20" x2="156.20" y2="608.20" stroke="#6a6a6a" stroke-width="1.2"/>
<text x="86.00" y="620.80" font-size="10.26" fill="#1a1a1a" stroke="#1a1a1a" stroke-width="0.2" textLength="73.60" lengthAdjust="spacingAndGlyphs">ug/mL FRAX-597</text>
<rect x="221.00" y="503.80" width="23.80" height="75.60" fill="#0a0a0a"/>
<line x1="232.90" y1="503.80" x2="232.90" y2="489.44" stroke="#1a1a1a" stroke-width="1.1"/>
<line x1="226.00" y1="489.44" x2="239.80" y2="489.44" stroke="#1a1a1a" stroke-width="1.1"/>
<rect x="255.10" y="534.04" width="23.80" height="45.36" fill="#a3a3a3"/>
<line x1="267.00" y1="534.04" x2="267.00" y2="527.24" stroke="#1a1a1a" stroke-width="1.1"/>
<line x1="260.10" y1="527.24" x2="273.90" y2="527.24" stroke="#1a1a1a" stroke-width="1.1"/>
<rect x="289.20" y="549.92" width="23.80" height="29.48" fill="#7c7c7c"/>
<line x1="301.10" y1="549.92" x2="301.10" y2="541.60" stroke="#1a1a1a" stroke-width="1.1"/>
<line x1="294.20" y1="541.60" x2="308.00" y2="541.60" stroke="#1a1a1a" stroke-width="1.1"/>
<line x1="334.90" y1="579.40" x2="334.90" y2="575.62" stroke="#1a1a1a" stroke-width="1.1"/>
<line x1="331.54" y1="575.62" x2="338.26" y2="575.62" stroke="#1a1a1a" stroke-width="1.1"/>
<line x1="215.00" y1="488.18" x2="215.00" y2="580.00" stroke="#1a1a1a" stroke-width="1.2"/>
<line x1="214.40" y1="579.40" x2="351.70" y2="579.40" stroke="#1a1a1a" stroke-width="1.2"/>
<line x1="211.40" y1="579.40" x2="215.00" y2="579.40" stroke="#1a1a1a" stroke-width="1.0"/>
<text x="210.50" y="582.76" font-size="9.24" fill="#111" stroke="#111" stroke-width="0.2" text-anchor="end" textLength="11.68" lengthAdjust="spacingAndGlyphs">0.0</text>
<line x1="211.40" y1="564.28" x2="215.00" y2="564.28" stroke="#1a1a1a" stroke-width="1.0"/>
<text x="210.50" y="567.64" font-size="9.24" fill="#111" stroke="#111" stroke-width="0.2" text-anchor="end" textLength="11.68" lengthAdjust="spacingAndGlyphs">0.2</text>
<line x1="211.40" y1="549.16" x2="215.00" y2="549.16" stroke="#1a1a1a" stroke-width="1.0"/>
<text x="210.50" y="552.52" font-size="9.24" fill="#111" stroke="#111" stroke-width="0.2" text-anchor="end" textLength="11.68" lengthAdjust="spacingAndGlyphs">0.4</text>
<line x1="211.40" y1="534.04" x2="215.00" y2="534.04" stroke="#1a1a1a" stroke-width="1.0"/>
<text x="210.50" y="537.40" font-size="9.24" fill="#111" stroke="#111" stroke-width="0.2" text-anchor="end" textLength="11.68" lengthAdjust="spacingAndGlyphs">0.6</text>
<line x1="211.40" y1="518.92" x2="215.00" y2="518.92" stroke="#1a1a1a" stroke-width="1.0"/>
<text x="210.50" y="522.28" font-size="9.24" fill="#111" stroke="#111" stroke-width="0.2" text-anchor="end" textLength="11.68" lengthAdjust="spacingAndGlyphs">0.8</text>
<line x1="211.40" y1="503.80" x2="215.00" y2="503.80" stroke="#1a1a1a" stroke-width="1.0"/>
<text x="210.50" y="507.16" font-size="9.24" fill="#111" stroke="#111" stroke-width="0.2" text-anchor="end" textLength="11.68" lengthAdjust="spacingAndGlyphs">1.0</text>
<line x1="211.40" y1="488.68" x2="215.00" y2="488.68" stroke="#1a1a1a" stroke-width="1.0"/>
<text x="210.50" y="492.04" font-size="9.24" fill="#111" stroke="#111" stroke-width="0.2" text-anchor="end" textLength="11.68" lengthAdjust="spacingAndGlyphs">1.2</text>
<line x1="233.00" y1="579.40" x2="233.00" y2="582.40" stroke="#1a1a1a" stroke-width="1.0"/>
<line x1="267.00" y1="579.40" x2="267.00" y2="582.40" stroke="#1a1a1a" stroke-width="1.0"/>
<line x1="300.90" y1="579.40" x2="300.90" y2="582.40" stroke="#1a1a1a" stroke-width="1.0"/>
<line x1="334.60" y1="579.40" x2="334.60" y2="582.40" stroke="#1a1a1a" stroke-width="1.0"/>
<circle cx="267.80" cy="512.30" r="1.25" fill="#1a1a1a"/>
<circle cx="304.50" cy="512.30" r="1.25" fill="#1a1a1a"/>
<circle cx="331.50" cy="512.30" r="1.25" fill="#1a1a1a"/>
<circle cx="335.50" cy="512.30" r="1.25" fill="#1a1a1a"/>
<text x="261.00" y="486.50" font-size="9.8" fill="#1a1a1a" stroke="#1a1a1a" stroke-width="0.3" textLength="42.60" lengthAdjust="spacingAndGlyphs">MOLM-13</text>
<text x="192.70" y="536.40" font-size="9.5" fill="#1a1a1a" stroke="#1a1a1a" stroke-width="0.2" text-anchor="middle" textLength="115.60" lengthAdjust="spacingAndGlyphs" transform="rotate(-90 192.70 536.40)">colonies (relative to DMSO)</text>
<text x="233.60" y="598.70" font-size="10.45" fill="#1a1a1a" stroke="#1a1a1a" stroke-width="0.2" text-anchor="middle" textLength="28.50" lengthAdjust="spacingAndGlyphs">DMSO</text>
<text x="267.30" y="598.70" font-size="10.45" fill="#1a1a1a" stroke="#1a1a1a" stroke-width="0.2" text-anchor="middle" textLength="13.21" lengthAdjust="spacingAndGlyphs">0.1</text>
<text x="300.50" y="598.70" font-size="10.45" fill="#1a1a1a" stroke="#1a1a1a" stroke-width="0.2" text-anchor="middle" textLength="13.21" lengthAdjust="spacingAndGlyphs">0.5</text>
<text x="335.00" y="598.70" font-size="10.45" fill="#1a1a1a" stroke="#1a1a1a" stroke-width="0.2" text-anchor="middle" textLength="5.28" lengthAdjust="spacingAndGlyphs">2</text>
<line x1="267.80" y1="608.00" x2="337.00" y2="608.00" stroke="#6a6a6a" stroke-width="1.2"/>
<text x="268.60" y="619.80" font-size="10.26" fill="#1a1a1a" stroke="#1a1a1a" stroke-width="0.2" textLength="73.30" lengthAdjust="spacingAndGlyphs">ug/mL FRAX-597</text>
<text x="344.10" y="310.60" font-size="11.5" fill="#1a1a1a" stroke="#1a1a1a" stroke-width="0.2" font-weight="bold" textLength="7.67" lengthAdjust="spacingAndGlyphs">E</text>
<rect x="385.30" y="397.68" width="8.90" height="12.92" fill="#0a0a0a"/>
<rect x="397.40" y="397.68" width="9.00" height="12.92" fill="#a3a3a3"/>
<rect x="409.20" y="397.68" width="9.30" height="12.92" fill="#7c7c7c"/>
<rect x="429.70" y="377.49" width="9.30" height="33.11" fill="#0a0a0a"/>
<line x1="434.35" y1="377.49" x2="434.35" y2="375.39" stroke="#1a1a1a" stroke-width="1.1"/>
<line x1="431.65" y1="375.39" x2="437.05" y2="375.39" stroke="#1a1a1a" stroke-width="1.1"/>
<rect x="442.10" y="387.34" width="9.30" height="23.26" fill="#a3a3a3"/>
<line x1="446.75" y1="387.34" x2="446.75" y2="386.70" stroke="#1a1a1a" stroke-width="1.1"/>
<line x1="444.05" y1="386.70" x2="449.45" y2="386.70" stroke="#1a1a1a" stroke-width="1.1"/>
<rect x="454.00" y="395.58" width="9.30" height="15.02" fill="#7c7c7c"/>
<line x1="458.65" y1="395.58" x2="458.65" y2="395.26" stroke="#1a1a1a" stroke-width="1.1"/>
<line x1="455.95" y1="395.26" x2="461.35" y2="395.26" stroke="#1a1a1a" stroke-width="1.1"/>
<rect x="474.80" y="340.51" width="8.60" height="70.09" fill="#0a0a0a"/>
<line x1="479.10" y1="340.51" x2="479.10" y2="339.22" stroke="#1a1a1a" stroke-width="1.1"/>
<line x1="476.61" y1="339.22" x2="481.59" y2="339.22" stroke="#1a1a1a" stroke-width="1.1"/>
<rect x="486.50" y="368.77" width="9.30" height="41.83" fill="#a3a3a3"/>
<line x1="491.15" y1="368.77" x2="491.15" y2="365.70" stroke="#1a1a1a" stroke-width="1.1"/>
<line x1="488.45" y1="365.70" x2="493.85" y2="365.70" stroke="#1a1a1a" stroke-width="1.1"/>
<rect x="498.80" y="393.48" width="9.00" height="17.12" fill="#7c7c7c"/>
<line x1="503.30" y1="393.48" x2="503.30" y2="391.22" stroke="#1a1a1a" stroke-width="1.1"/>
<line x1="500.69" y1="391.22" x2="505.91" y2="391.22" stroke="#1a1a1a" stroke-width="1.1"/>
<line x1="379.50" y1="329.35" x2="379.50" y2="411.20" stroke="#1a1a1a" stroke-width="1.2"/>
<line x1="378.90" y1="410.60" x2="513.00" y2="410.60" stroke="#1a1a1a" stroke-width="1.2"/>
<line x1="376.10" y1="410.60" x2="379.50" y2="410.60" stroke="#1a1a1a" stroke-width="1.0"/>
<text x="375.50" y="414.36" font-size="10.34" fill="#111" stroke="#111" stroke-width="0.2" text-anchor="end" textLength="5.23" lengthAdjust="spacingAndGlyphs">0</text>
<line x1="376.10" y1="394.45" x2="379.50" y2="394.45" stroke="#1a1a1a" stroke-width="1.0"/>
<text x="375.50" y="398.21" font-size="10.34" fill="#111" stroke="#111" stroke-width="0.2" text-anchor="end" textLength="15.68" lengthAdjust="spacingAndGlyphs">100</text>
<line x1="376.10" y1="378.30" x2="379.50" y2="378.30" stroke="#1a1a1a" stroke-width="1.0"/>
<text x="375.50" y="382.06" font-size="10.34" fill="#111" stroke="#111" stroke-width="0.2" text-anchor="end" textLength="15.68" lengthAdjust="spacingAndGlyphs">200</text>
<line x1="376.10" y1="362.15" x2="379.50" y2="362.15" stroke="#1a1a1a" stroke-width="1.0"/>
<text x="375.50" y="365.91" font-size="10.34" fill="#111" stroke="#111" stroke-width="0.2" text-anchor="end" textLength="15.68" lengthAdjust="spacingAndGlyphs">300</text>
<line x1="376.10" y1="346.00" x2="379.50" y2="346.00" stroke="#1a1a1a" stroke-width="1.0"/>
<text x="375.50" y="349.76" font-size="10.34" fill="#111" stroke="#111" stroke-width="0.2" text-anchor="end" textLength="15.68" lengthAdjust="spacingAndGlyphs">400</text>
<line x1="376.10" y1="329.85" x2="379.50" y2="329.85" stroke="#1a1a1a" stroke-width="1.0"/>
<text x="375.50" y="333.61" font-size="10.34" fill="#111" stroke="#111" stroke-width="0.2" text-anchor="end" textLength="15.68" lengthAdjust="spacingAndGlyphs">500</text>
<line x1="401.50" y1="410.60" x2="401.50" y2="413.60" stroke="#1a1a1a" stroke-width="1.0"/>
<line x1="445.50" y1="410.60" x2="445.50" y2="413.60" stroke="#1a1a1a" stroke-width="1.0"/>
<line x1="490.30" y1="410.60" x2="490.30" y2="413.60" stroke="#1a1a1a" stroke-width="1.0"/>
<text x="400.50" y="423.00" font-size="9.2" fill="#1a1a1a" stroke="#1a1a1a" stroke-width="0.2" text-anchor="middle" textLength="5.12" lengthAdjust="spacingAndGlyphs">0</text>
<text x="446.40" y="423.00" font-size="9.2" fill="#1a1a1a" stroke="#1a1a1a" stroke-width="0.2" text-anchor="middle" textLength="10.23" lengthAdjust="spacingAndGlyphs">48</text>
<text x="491.40" y="423.00" font-size="9.2" fill="#1a1a1a" stroke="#1a1a1a" stroke-width="0.2" text-anchor="middle" textLength="10.23" lengthAdjust="spacingAndGlyphs">96</text>
<text x="435.60" y="433.80" font-size="9.2" fill="#1a1a1a" stroke="#1a1a1a" stroke-width="0.2" textLength="23.80" lengthAdjust="spacingAndGlyphs">hours</text>
<text x="353.60" y="397.70" font-size="8.4" fill="#1a1a1a" stroke="#1a1a1a" stroke-width="0.2" textLength="61.70" lengthAdjust="spacingAndGlyphs" transform="rotate(-90 353.60 397.70)">cell count x 10</text>
<text x="350.40" y="337.80" font-size="6.4" fill="#1a1a1a" stroke="#1a1a1a" stroke-width="0.2" transform="rotate(-90 350.40 337.80)">3</text>
<rect x="391.00" y="315.70" width="9.60" height="7.80" fill="#0a0a0a"/>
<text x="405.50" y="323.10" font-size="9.2" fill="#1a1a1a" stroke="#1a1a1a" stroke-width="0.2" textLength="28.30" lengthAdjust="spacingAndGlyphs">control</text>
<rect x="391.00" y="326.20" width="9.60" height="7.50" fill="#a3a3a3"/>
<text x="405.50" y="333.80" font-size="9.2" fill="#1a1a1a" stroke="#1a1a1a" stroke-width="0.2" textLength="50.20" lengthAdjust="spacingAndGlyphs">sh <tspan font-style="italic">PAK1 #1</tspan></text>
<rect x="391.00" y="337.00" width="9.60" height="7.50" fill="#7c7c7c"/>
<text x="405.50" y="344.50" font-size="9.2" fill="#1a1a1a" stroke="#1a1a1a" stroke-width="0.2" textLength="51.30" lengthAdjust="spacingAndGlyphs">sh <tspan font-style="italic">PAK1 #2</tspan></text>
<line x1="432.40" y1="361.00" x2="454.10" y2="361.00" stroke="#444" stroke-width="0.9"/>
<circle cx="439.35" cy="355.00" r="0.95" fill="#1a1a1a"/>
<circle cx="442.65" cy="355.00" r="0.95" fill="#1a1a1a"/>
<line x1="432.40" y1="370.80" x2="445.40" y2="370.80" stroke="#444" stroke-width="0.9"/>
<circle cx="438.50" cy="365.20" r="0.95" fill="#1a1a1a"/>
<line x1="477.30" y1="321.10" x2="503.50" y2="321.10" stroke="#444" stroke-width="0.9"/>
<circle cx="480.55" cy="314.60" r="0.95" fill="#1a1a1a"/>
<circle cx="483.85" cy="314.60" r="0.95" fill="#1a1a1a"/>
<line x1="477.30" y1="334.80" x2="490.00" y2="334.80" stroke="#444" stroke-width="0.9"/>
<circle cx="480.50" cy="329.60" r="0.95" fill="#1a1a1a"/>
<circle cx="483.80" cy="329.60" r="0.95" fill="#1a1a1a"/>
<circle cx="487.10" cy="329.60" r="0.95" fill="#1a1a1a"/>
<text x="352.00" y="470.50" font-size="11.5" fill="#1a1a1a" stroke="#1a1a1a" stroke-width="0.2" font-weight="bold" textLength="7.02" lengthAdjust="spacingAndGlyphs">F</text>
<rect x="404.50" y="513.60" width="22.20" height="63.00" fill="#0a0a0a"/>
<line x1="415.60" y1="513.60" x2="415.60" y2="498.48" stroke="#1a1a1a" stroke-width="1.1"/>
<line x1="409.16" y1="498.48" x2="422.04" y2="498.48" stroke="#1a1a1a" stroke-width="1.1"/>
<rect x="437.30" y="532.50" width="22.10" height="44.10" fill="#a3a3a3"/>
<line x1="448.35" y1="532.50" x2="448.35" y2="523.05" stroke="#1a1a1a" stroke-width="1.1"/>
<line x1="441.94" y1="523.05" x2="454.76" y2="523.05" stroke="#1a1a1a" stroke-width="1.1"/>
<rect x="470.70" y="549.13" width="22.40" height="27.47" fill="#7c7c7c"/>
<line x1="481.90" y1="549.13" x2="481.90" y2="541.00" stroke="#1a1a1a" stroke-width="1.1"/>
<line x1="475.40" y1="541.00" x2="488.40" y2="541.00" stroke="#1a1a1a" stroke-width="1.1"/>
<line x1="399.60" y1="487.90" x2="399.60" y2="577.20" stroke="#1a1a1a" stroke-width="1.2"/>
<line x1="399.00" y1="576.60" x2="498.10" y2="576.60" stroke="#1a1a1a" stroke-width="1.2"/>
<line x1="397.20" y1="576.60" x2="399.60" y2="576.60" stroke="#1a1a1a" stroke-width="1.0"/>
<text x="397.30" y="579.12" font-size="6.93" fill="#111" stroke="#111" stroke-width="0.2" text-anchor="end" textLength="8.76" lengthAdjust="spacingAndGlyphs">0.0</text>
<line x1="397.20" y1="564.00" x2="399.60" y2="564.00" stroke="#1a1a1a" stroke-width="1.0"/>
<text x="397.30" y="566.52" font-size="6.93" fill="#111" stroke="#111" stroke-width="0.2" text-anchor="end" textLength="8.76" lengthAdjust="spacingAndGlyphs">0.2</text>
<line x1="397.20" y1="551.40" x2="399.60" y2="551.40" stroke="#1a1a1a" stroke-width="1.0"/>
<text x="397.30" y="553.92" font-size="6.93" fill="#111" stroke="#111" stroke-width="0.2" text-anchor="end" textLength="8.76" lengthAdjust="spacingAndGlyphs">0.4</text>
<line x1="397.20" y1="538.80" x2="399.60" y2="538.80" stroke="#1a1a1a" stroke-width="1.0"/>
<text x="397.30" y="541.32" font-size="6.93" fill="#111" stroke="#111" stroke-width="0.2" text-anchor="end" textLength="8.76" lengthAdjust="spacingAndGlyphs">0.6</text>
<line x1="397.20" y1="526.20" x2="399.60" y2="526.20" stroke="#1a1a1a" stroke-width="1.0"/>
<text x="397.30" y="528.72" font-size="6.93" fill="#111" stroke="#111" stroke-width="0.2" text-anchor="end" textLength="8.76" lengthAdjust="spacingAndGlyphs">0.8</text>
<line x1="397.20" y1="513.60" x2="399.60" y2="513.60" stroke="#1a1a1a" stroke-width="1.0"/>
<text x="397.30" y="516.12" font-size="6.93" fill="#111" stroke="#111" stroke-width="0.2" text-anchor="end" textLength="8.76" lengthAdjust="spacingAndGlyphs">1.0</text>
<line x1="397.20" y1="501.00" x2="399.60" y2="501.00" stroke="#1a1a1a" stroke-width="1.0"/>
<text x="397.30" y="503.52" font-size="6.93" fill="#111" stroke="#111" stroke-width="0.2" text-anchor="end" textLength="8.76" lengthAdjust="spacingAndGlyphs">1.2</text>
<line x1="397.20" y1="488.40" x2="399.60" y2="488.40" stroke="#1a1a1a" stroke-width="1.0"/>
<text x="397.30" y="490.92" font-size="6.93" fill="#111" stroke="#111" stroke-width="0.2" text-anchor="end" textLength="8.76" lengthAdjust="spacingAndGlyphs">1.4</text>
<line x1="415.60" y1="576.60" x2="415.60" y2="579.60" stroke="#1a1a1a" stroke-width="1.0"/>
<line x1="448.30" y1="576.60" x2="448.30" y2="579.60" stroke="#1a1a1a" stroke-width="1.0"/>
<line x1="481.90" y1="576.60" x2="481.90" y2="579.60" stroke="#1a1a1a" stroke-width="1.0"/>
<circle cx="448.50" cy="513.10" r="1.25" fill="#1a1a1a"/>
<circle cx="479.60" cy="513.10" r="1.25" fill="#1a1a1a"/>
<circle cx="483.60" cy="513.10" r="1.25" fill="#1a1a1a"/>
<text x="380.30" y="535.20" font-size="9.5" fill="#1a1a1a" stroke="#1a1a1a" stroke-width="0.2" text-anchor="middle" textLength="116.60" lengthAdjust="spacingAndGlyphs" transform="rotate(-90 380.30 535.20)">colonies (relative to DMSO)</text>
<text x="412.80" y="589.60" font-size="9.6" fill="#1a1a1a" stroke="#1a1a1a" stroke-width="0.2" text-anchor="end" transform="rotate(-27 412.80 589.60)">control</text>
<text x="452.80" y="589.40" font-size="9.6" fill="#1a1a1a" stroke="#1a1a1a" stroke-width="0.2" text-anchor="end" transform="rotate(-27 452.80 589.40)">shPAK1#1</text>
<text x="490.60" y="589.80" font-size="9.6" fill="#1a1a1a" stroke="#1a1a1a" stroke-width="0.2" text-anchor="end" transform="rotate(-27 490.60 589.80)">shPAK1#2</text>
</svg>
</body></html>
